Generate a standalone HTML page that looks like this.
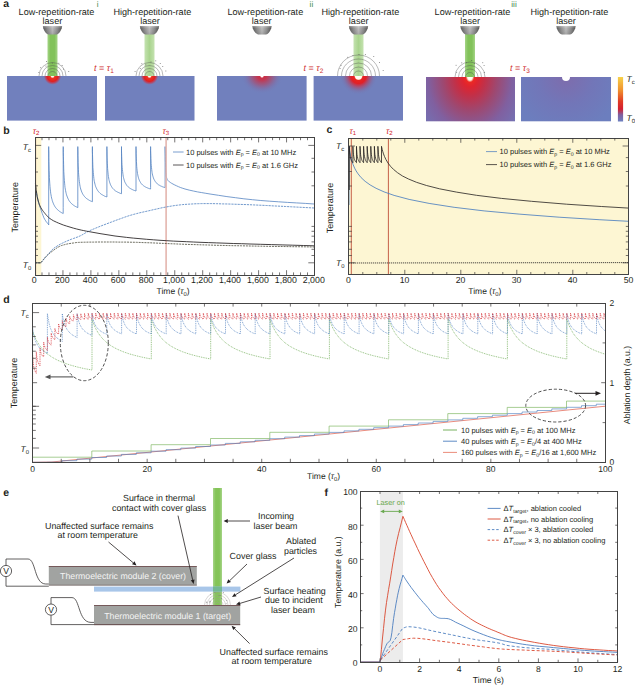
<!DOCTYPE html><html><head><meta charset="utf-8"><style>
html,body{margin:0;padding:0;background:#fff;}
svg{display:block;font-family:"Liberation Sans", sans-serif;}
text{text-rendering:geometricPrecision;}
text{fill:#231f20;}
</style></head><body>
<svg width="635" height="685" viewBox="0 0 635 685">
<defs>
<linearGradient id="head" x1="0" y1="0" x2="0" y2="1"><stop offset="0" stop-color="#fff" stop-opacity="0.35"/><stop offset="0.25" stop-color="#fff" stop-opacity="0.05"/><stop offset="1" stop-color="#000" stop-opacity="0.1"/></linearGradient>
<linearGradient id="headh" x1="0" y1="0" x2="1" y2="0"><stop offset="0" stop-color="#505050"/><stop offset="0.25" stop-color="#8a8a8a"/><stop offset="0.5" stop-color="#b8b8b8"/><stop offset="0.75" stop-color="#8a8a8a"/><stop offset="1" stop-color="#4a4a4a"/></linearGradient>
<linearGradient id="beam1" x1="0" y1="0" x2="1" y2="0"><stop offset="0" stop-color="#a4d486"/><stop offset="0.3" stop-color="#82c25a"/><stop offset="0.7" stop-color="#82c25a"/><stop offset="1" stop-color="#a4d486"/></linearGradient>
<linearGradient id="beam2" x1="0" y1="0" x2="1" y2="0"><stop offset="0" stop-color="#c4e2b0"/><stop offset="0.5" stop-color="#a9d48e"/><stop offset="1" stop-color="#c4e2b0"/></linearGradient>
<linearGradient id="beamE" x1="0" y1="0" x2="1" y2="0"><stop offset="0" stop-color="#a6d488"/><stop offset="0.3" stop-color="#84c458"/><stop offset="0.7" stop-color="#84c458"/><stop offset="1" stop-color="#a6d488"/></linearGradient>
<radialGradient id="hotA" cx="0.5" cy="0.5" r="0.5"><stop offset="0" stop-color="#fff"/><stop offset="0.12" stop-color="#fff8f0"/><stop offset="0.26" stop-color="#ee3420"/><stop offset="0.62" stop-color="#e02020"/><stop offset="0.8" stop-color="#d42a3a" stop-opacity="0.6"/><stop offset="1" stop-color="#c84058" stop-opacity="0"/></radialGradient>
<radialGradient id="diffB" cx="0.5" cy="0.5" r="0.5"><stop offset="0" stop-color="#d02a3c"/><stop offset="0.22" stop-color="#cc2e44" stop-opacity="0.9"/><stop offset="0.5" stop-color="#b4405e" stop-opacity="0.55"/><stop offset="0.78" stop-color="#8c5a90" stop-opacity="0.18"/><stop offset="1" stop-color="#7180bd" stop-opacity="0"/></radialGradient>
<radialGradient id="hotII" cx="0.5" cy="0.5" r="0.5"><stop offset="0" stop-color="#fff"/><stop offset="0.17" stop-color="#fffbea"/><stop offset="0.23" stop-color="#ea2420"/><stop offset="0.4" stop-color="#e02028"/><stop offset="0.58" stop-color="#c83048" stop-opacity="0.55"/><stop offset="0.78" stop-color="#9c4870" stop-opacity="0.18"/><stop offset="1" stop-color="#6c7fbf" stop-opacity="0"/></radialGradient>
<radialGradient id="hotIII" gradientUnits="userSpaceOnUse" cx="470" cy="77" r="60" gradientTransform="translate(470,77) scale(1,1.25) translate(-470,-77)"><stop offset="0" stop-color="#ffffff"/><stop offset="0.04" stop-color="#fffbe8"/><stop offset="0.07" stop-color="#ec2a24"/><stop offset="0.13" stop-color="#de2430"/><stop offset="0.25" stop-color="#c23048"/><stop offset="0.45" stop-color="#9e4870"/><stop offset="0.7" stop-color="#8060a0"/><stop offset="1" stop-color="#7274b6"/></radialGradient>
<radialGradient id="warmIII" gradientUnits="userSpaceOnUse" cx="566" cy="77" r="55"><stop offset="0" stop-color="#7e6cac"/><stop offset="0.5" stop-color="#7276b8"/><stop offset="1" stop-color="#6c7ebe"/></radialGradient>
<linearGradient id="cbar" x1="0" y1="0" x2="0" y2="1"><stop offset="0" stop-color="#f7d24a"/><stop offset="0.3" stop-color="#f0902e"/><stop offset="0.55" stop-color="#e03a24"/><stop offset="0.72" stop-color="#d42030"/><stop offset="0.85" stop-color="#8060a0"/><stop offset="1" stop-color="#6b7fc0"/></linearGradient>
<marker id="arrL" markerWidth="6" markerHeight="6" refX="0.5" refY="3" orient="auto" markerUnits="userSpaceOnUse"><path d="M6,0.8 L0,3 L6,5.2 Z" fill="#231f20"/></marker>
</defs>

<text x="3.2" y="7" font-size="10.5" font-weight="bold">a</text>
<text x="96.8" y="7" font-size="8.2" style="fill:#3f8c4c">i</text>
<text x="309.6" y="7" font-size="8.2" style="fill:#3f8c4c">ii</text>
<text x="511.3" y="7" font-size="8.2" style="fill:#3f8c4c">iii</text>
<text x="56.5" y="14.8" font-size="9.1" text-anchor="middle">Low-repetition-rate</text>
<text x="52.4" y="23.8" font-size="9.1" text-anchor="middle">laser</text>
<rect x="47.5" y="33" width="10" height="43" fill="url(#beam1)"/>
<path d="M42.9,26 L62.1,26 L61.7,28.5 Q59.5,33.8 56.5,34.6 L48.5,34.6 Q45.5,33.8 43.3,28.5 Z" fill="url(#headh)"/>
<path d="M42.9,26 L62.1,26 L61.7,28.5 Q59.5,33.8 56.5,34.6 L48.5,34.6 Q45.5,33.8 43.3,28.5 Z" fill="url(#head)"/>
<text x="152.3" y="14.8" font-size="9.1" text-anchor="middle">High-repetition-rate</text>
<text x="150" y="23.8" font-size="9.1" text-anchor="middle">laser</text>
<rect x="144.5" y="33" width="10" height="43" fill="url(#beam2)"/>
<path d="M139.9,26 L159.1,26 L158.7,28.5 Q156.5,33.8 153.5,34.6 L145.5,34.6 Q142.5,33.8 140.3,28.5 Z" fill="url(#headh)"/>
<path d="M139.9,26 L159.1,26 L158.7,28.5 Q156.5,33.8 153.5,34.6 L145.5,34.6 Q142.5,33.8 140.3,28.5 Z" fill="url(#head)"/>
<text x="265.3" y="14.8" font-size="9.1" text-anchor="middle">Low-repetition-rate</text>
<text x="261.7" y="23.8" font-size="9.1" text-anchor="middle">laser</text>
<path d="M252.4,26 L271.6,26 L271.2,28.5 Q269,33.8 266,34.6 L258,34.6 Q255,33.8 252.8,28.5 Z" fill="url(#headh)"/>
<path d="M252.4,26 L271.6,26 L271.2,28.5 Q269,33.8 266,34.6 L258,34.6 Q255,33.8 252.8,28.5 Z" fill="url(#head)"/>
<text x="360.3" y="14.8" font-size="9.1" text-anchor="middle">High-repetition-rate</text>
<text x="358.7" y="23.8" font-size="9.1" text-anchor="middle">laser</text>
<rect x="353.5" y="33" width="10" height="43" fill="url(#beam2)"/>
<path d="M348.9,26 L368.1,26 L367.7,28.5 Q365.5,33.8 362.5,34.6 L354.5,34.6 Q351.5,33.8 349.3,28.5 Z" fill="url(#headh)"/>
<path d="M348.9,26 L368.1,26 L367.7,28.5 Q365.5,33.8 362.5,34.6 L354.5,34.6 Q351.5,33.8 349.3,28.5 Z" fill="url(#head)"/>
<text x="472.5" y="14.8" font-size="9.1" text-anchor="middle">Low-repetition-rate</text>
<text x="470.2" y="23.8" font-size="9.1" text-anchor="middle">laser</text>
<rect x="465" y="33" width="10" height="44" fill="url(#beam1)"/>
<path d="M460.4,26 L479.6,26 L479.2,28.5 Q477,33.8 474,34.6 L466,34.6 Q463,33.8 460.8,28.5 Z" fill="url(#headh)"/>
<path d="M460.4,26 L479.6,26 L479.2,28.5 Q477,33.8 474,34.6 L466,34.6 Q463,33.8 460.8,28.5 Z" fill="url(#head)"/>
<text x="569.4" y="14.8" font-size="9.1" text-anchor="middle">High-repetition-rate</text>
<text x="566" y="23.8" font-size="9.1" text-anchor="middle">laser</text>
<path d="M556.4,26 L575.6,26 L575.2,28.5 Q573,33.8 570,34.6 L562,34.6 Q559,33.8 556.8,28.5 Z" fill="url(#headh)"/>
<path d="M556.4,26 L575.6,26 L575.2,28.5 Q573,33.8 570,34.6 L562,34.6 Q559,33.8 556.8,28.5 Z" fill="url(#head)"/>
<rect x="7" y="76" width="90.0" height="44.6" fill="#7180bd"/>
<rect x="105" y="76" width="89.5" height="44.6" fill="#7180bd"/>
<rect x="217" y="76" width="89.6" height="44.6" fill="#7180bd"/>
<rect x="313.6" y="76" width="89.4" height="44.6" fill="#7180bd"/>
<rect x="426" y="77" width="89.0" height="44.3" fill="url(#hotIII)"/>
<rect x="521" y="77" width="90.0" height="44.3" fill="url(#warmIII)"/>
<clipPath id="c1"><rect x="7" y="76" width="90" height="44.6"/></clipPath>
<clipPath id="c2"><rect x="105" y="76" width="89.5" height="44.6"/></clipPath>
<clipPath id="c3"><rect x="217" y="76" width="89.6" height="44.6"/></clipPath>
<clipPath id="c4"><rect x="313.6" y="76" width="89.4" height="44.6"/></clipPath>
<clipPath id="c5"><rect x="426" y="77" width="89" height="44.3"/></clipPath>
<clipPath id="c6"><rect x="521" y="77" width="90" height="44.3"/></clipPath>
<circle cx="52.5" cy="76" r="8.8" fill="url(#hotA)" clip-path="url(#c1)"/>
<circle cx="149.5" cy="76" r="8.8" fill="url(#hotA)" clip-path="url(#c2)"/>
<ellipse cx="262" cy="76" rx="21" ry="18" fill="url(#diffB)" clip-path="url(#c3)"/>
<circle cx="262" cy="76" r="1.6" fill="#fff" clip-path="url(#c3)"/>
<circle cx="358.5" cy="76" r="19" fill="url(#hotII)" clip-path="url(#c4)"/>
<circle cx="566" cy="77" r="4" fill="#fff" clip-path="url(#c6)"/>
<path d="M48.0,76 A4.5,4.5 0 0 1 57.0,76" fill="none" stroke="#505050" stroke-width="0.4"/>
<path d="M45.0,76 A7.5,7.5 0 0 1 60.0,76" fill="none" stroke="#505050" stroke-width="0.4"/>
<path d="M42.0,76 A10.5,10.5 0 0 1 63.0,76" fill="none" stroke="#505050" stroke-width="0.4"/>
<path d="M39.0,76 A13.5,13.5 0 0 1 66.0,76" fill="none" stroke="#505050" stroke-width="0.4"/>
<path d="M145.0,76 A4.5,4.5 0 0 1 154.0,76" fill="none" stroke="#505050" stroke-width="0.4"/>
<path d="M142.0,76 A7.5,7.5 0 0 1 157.0,76" fill="none" stroke="#505050" stroke-width="0.4"/>
<path d="M139.0,76 A10.5,10.5 0 0 1 160.0,76" fill="none" stroke="#505050" stroke-width="0.4"/>
<path d="M136.0,76 A13.5,13.5 0 0 1 163.0,76" fill="none" stroke="#505050" stroke-width="0.4"/>
<path d="M353.5,76 A5,5 0 0 1 363.5,76" fill="none" stroke="#505050" stroke-width="0.4"/>
<path d="M349.5,76 A9,9 0 0 1 367.5,76" fill="none" stroke="#505050" stroke-width="0.4"/>
<path d="M345.5,76 A13,13 0 0 1 371.5,76" fill="none" stroke="#505050" stroke-width="0.4"/>
<path d="M341.5,76 A17,17 0 0 1 375.5,76" fill="none" stroke="#505050" stroke-width="0.4"/>
<path d="M337.5,76 A21,21 0 0 1 379.5,76" fill="none" stroke="#505050" stroke-width="0.4"/>
<path d="M465.5,77 A4.5,4.5 0 0 1 474.5,77" fill="none" stroke="#505050" stroke-width="0.4"/>
<path d="M462,77 A8,8 0 0 1 478,77" fill="none" stroke="#505050" stroke-width="0.4"/>
<path d="M458.5,77 A11.5,11.5 0 0 1 481.5,77" fill="none" stroke="#505050" stroke-width="0.4"/>
<path d="M455,77 A15,15 0 0 1 485,77" fill="none" stroke="#505050" stroke-width="0.4"/>
<rect x="38.3" y="72.2" width="1" height="0.6" fill="#555"/>
<rect x="40.1" y="67.5" width="1" height="0.6" fill="#555"/>
<rect x="45.5" y="65.8" width="1" height="0.6" fill="#555"/>
<rect x="46.0" y="61.2" width="1" height="0.6" fill="#555"/>
<rect x="51.9" y="62.8" width="1" height="0.6" fill="#555"/>
<rect x="58.3" y="62.9" width="1" height="0.6" fill="#555"/>
<rect x="61.7" y="65.0" width="1" height="0.6" fill="#555"/>
<rect x="63.0" y="68.8" width="1" height="0.6" fill="#555"/>
<rect x="68.2" y="71.4" width="1" height="0.6" fill="#555"/>
<rect x="134.6" y="71.1" width="1" height="0.6" fill="#555"/>
<rect x="139.8" y="68.4" width="1" height="0.6" fill="#555"/>
<rect x="141.3" y="63.5" width="1" height="0.6" fill="#555"/>
<rect x="145.3" y="64.6" width="1" height="0.6" fill="#555"/>
<rect x="150.5" y="61.7" width="1" height="0.6" fill="#555"/>
<rect x="155.2" y="60.6" width="1" height="0.6" fill="#555"/>
<rect x="159.8" y="63.0" width="1" height="0.6" fill="#555"/>
<rect x="162.2" y="66.3" width="1" height="0.6" fill="#555"/>
<rect x="165.3" y="70.7" width="1" height="0.6" fill="#555"/>
<rect x="339.6" y="68.2" width="1" height="0.6" fill="#555"/>
<rect x="340.6" y="64.9" width="1" height="0.6" fill="#555"/>
<rect x="347.2" y="56.9" width="1" height="0.6" fill="#555"/>
<rect x="352.4" y="55.4" width="1" height="0.6" fill="#555"/>
<rect x="358.5" y="54.1" width="1" height="0.6" fill="#555"/>
<rect x="364.9" y="54.0" width="1" height="0.6" fill="#555"/>
<rect x="373.2" y="56.4" width="1" height="0.6" fill="#555"/>
<rect x="379.0" y="62.2" width="1" height="0.6" fill="#555"/>
<rect x="382.7" y="70.0" width="1" height="0.6" fill="#555"/>
<rect x="456.1" y="71.9" width="1" height="0.6" fill="#555"/>
<rect x="455.6" y="64.9" width="1" height="0.6" fill="#555"/>
<rect x="461.2" y="62.6" width="1" height="0.6" fill="#555"/>
<rect x="466.0" y="62.5" width="1" height="0.6" fill="#555"/>
<rect x="471.1" y="60.2" width="1" height="0.6" fill="#555"/>
<rect x="473.8" y="63.2" width="1" height="0.6" fill="#555"/>
<rect x="482.2" y="62.5" width="1" height="0.6" fill="#555"/>
<rect x="483.6" y="65.3" width="1" height="0.6" fill="#555"/>
<rect x="483.9" y="72.2" width="1" height="0.6" fill="#555"/>
<text x="94" y="70.5" font-size="9" style="fill:#cf3232"><tspan font-style="italic">t</tspan> = <tspan font-style="italic">τ</tspan><tspan font-size="6.5" dy="2">1</tspan></text>
<text x="303.5" y="70.5" font-size="9" style="fill:#cf3232"><tspan font-style="italic">t</tspan> = <tspan font-style="italic">τ</tspan><tspan font-size="6.5" dy="2">2</tspan></text>
<text x="510" y="70.5" font-size="9" style="fill:#cf3232"><tspan font-style="italic">t</tspan> = <tspan font-style="italic">τ</tspan><tspan font-size="6.5" dy="2">3</tspan></text>
<rect x="617.9" y="77" width="5.2" height="44.5" fill="url(#cbar)"/>
<text x="626.5" y="81.5" font-size="8.5"><tspan font-style="italic">T</tspan><tspan font-size="6" dy="2">c</tspan></text>
<text x="626.5" y="120.8" font-size="8.5"><tspan font-style="italic">T</tspan><tspan font-size="6" dy="2">0</tspan></text>
<rect x="35" y="137.6" width="6.3" height="137.4" fill="#fdf6d3"/>
<text x="3.20" y="133.50" font-size="10.5" text-anchor="start" font-weight="bold">b</text>
<line x1="35.60" y1="137.60" x2="35.60" y2="275.00" stroke="#c0503a" stroke-width="0.9" />
<text x="32.8" y="133.5" font-size="8.5" style="fill:#d2232a"><tspan font-style="italic">τ</tspan><tspan font-size="6" dy="1.8">2</tspan></text>
<text x="162.5" y="133.5" font-size="8.5" style="fill:#d2232a"><tspan font-style="italic">τ</tspan><tspan font-size="6" dy="1.8">3</tspan></text>
<polyline points="35.4,189.0 35.6,190.0 35.8,191.0 36.1,192.0 36.3,193.0 36.5,194.0 36.8,195.3 37.1,196.7 37.4,198.0 37.7,199.3 38.0,200.5 38.5,202.3 39.0,204.0 39.5,205.5 40.0,207.0 40.5,208.5 41.4,211.0 42.2,213.4 43.1,215.7 43.9,217.8 44.8,219.5 45.6,220.7 46.3,221.8 47.1,222.7 47.8,223.6 48.6,224.6 48.7,225.0 48.7,213.5 48.7,146.6 48.7,147.4 48.7,149.7 48.8,153.1 48.8,157.2 48.9,161.6 49.0,166.0 49.1,170.2 49.3,174.1 49.4,177.7 49.6,181.0 49.8,183.9 50.0,186.6 50.2,189.0 50.5,191.2 50.7,193.2 51.0,194.9 51.3,196.6 51.6,198.1 52.0,199.4 52.3,200.7 52.7,201.8 53.1,202.9 53.5,203.8 53.9,204.8 54.4,205.6 54.8,206.4 55.3,207.1 55.8,207.8 56.3,208.4 56.9,209.0 57.4,209.6 58.0,210.1 58.6,210.6 59.2,211.1 59.8,211.6 60.5,212.0 61.1,212.4 61.8,212.8 62.5,213.2 63.2,213.5 63.2,207.6 63.2,146.6 63.3,147.3 63.3,149.4 63.3,152.5 63.4,156.2 63.5,160.2 63.6,164.2 63.7,168.1 63.8,171.7 64.0,174.9 64.2,177.9 64.4,180.6 64.6,183.1 64.8,185.3 65.0,187.3 65.3,189.1 65.6,190.7 65.9,192.2 66.2,193.5 66.5,194.8 66.9,195.9 67.3,196.9 67.7,197.9 68.1,198.8 68.5,199.6 68.9,200.4 69.4,201.1 69.9,201.8 70.4,202.4 70.9,203.0 71.4,203.5 72.0,204.1 72.6,204.5 73.2,205.0 73.8,205.4 74.4,205.8 75.0,206.2 75.7,206.6 76.4,206.9 77.1,207.3 77.8,207.6 77.8,201.7 77.8,146.6 77.8,147.3 77.8,149.1 77.9,151.9 77.9,155.3 78.0,158.9 78.1,162.5 78.2,166.0 78.4,169.2 78.5,172.2 78.7,174.9 78.9,177.3 79.1,179.5 79.3,181.5 79.6,183.3 79.8,184.9 80.1,186.4 80.4,187.8 80.7,189.0 81.1,190.1 81.4,191.1 81.8,192.1 82.2,192.9 82.6,193.8 83.0,194.5 83.5,195.2 83.9,195.8 84.4,196.4 84.9,197.0 85.4,197.5 86.0,198.0 86.5,198.5 87.1,198.9 87.7,199.3 88.3,199.7 88.9,200.1 89.6,200.5 90.2,200.8 90.9,201.1 91.6,201.4 92.4,201.7 92.4,197.0 92.4,146.6 92.4,147.2 92.4,148.9 92.4,151.5 92.5,154.6 92.6,157.9 92.7,161.2 92.8,164.3 92.9,167.3 93.1,170.0 93.3,172.5 93.5,174.7 93.7,176.7 93.9,178.5 94.1,180.2 94.4,181.7 94.7,183.0 95.0,184.3 95.3,185.4 95.6,186.4 96.0,187.3 96.4,188.2 96.8,189.0 97.2,189.7 97.6,190.4 98.0,191.0 98.5,191.6 99.0,192.2 99.5,192.7 100.0,193.2 100.5,193.6 101.1,194.1 101.7,194.5 102.3,194.8 102.9,195.2 103.5,195.5 104.1,195.9 104.8,196.2 105.5,196.5 106.2,196.7 106.9,197.0 106.9,193.7 106.9,146.6 106.9,147.2 106.9,148.8 107.0,151.2 107.0,154.0 107.1,157.1 107.2,160.2 107.3,163.2 107.5,165.9 107.6,168.5 107.8,170.8 108.0,172.9 108.2,174.8 108.4,176.5 108.7,178.0 108.9,179.4 109.2,180.6 109.5,181.8 109.8,182.8 110.2,183.8 110.5,184.7 110.9,185.5 111.3,186.2 111.7,186.9 112.1,187.5 112.6,188.1 113.0,188.7 113.5,189.2 114.0,189.7 114.5,190.1 115.1,190.6 115.6,191.0 116.2,191.3 116.8,191.7 117.4,192.0 118.0,192.3 118.7,192.6 119.3,192.9 120.0,193.2 120.7,193.5 121.5,193.7 121.5,191.0 121.5,146.6 121.5,147.1 121.5,148.6 121.5,150.9 121.6,153.6 121.7,156.5 121.8,159.4 121.9,162.2 122.0,164.8 122.2,167.2 122.4,169.4 122.6,171.4 122.8,173.1 123.0,174.7 123.2,176.2 123.5,177.5 123.8,178.7 124.1,179.8 124.4,180.8 124.7,181.7 125.1,182.5 125.5,183.2 125.9,183.9 126.3,184.6 126.7,185.2 127.1,185.8 127.6,186.3 128.1,186.8 128.6,187.2 129.1,187.6 129.6,188.0 130.2,188.4 130.8,188.8 131.4,189.1 132.0,189.4 132.6,189.7 133.2,190.0 133.9,190.3 134.6,190.5 135.3,190.8 136.0,191.0 136.0,189.0 136.0,146.6 136.0,147.1 136.0,148.6 136.1,150.7 136.1,153.3 136.2,156.1 136.3,158.9 136.4,161.5 136.6,164.0 136.7,166.3 136.9,168.4 137.1,170.3 137.3,171.9 137.5,173.5 137.8,174.9 138.0,176.1 138.3,177.2 138.6,178.3 138.9,179.2 139.3,180.1 139.6,180.9 140.0,181.6 140.4,182.3 140.8,182.9 141.2,183.5 141.7,184.0 142.1,184.5 142.6,185.0 143.1,185.4 143.6,185.8 144.2,186.2 144.7,186.5 145.3,186.9 145.9,187.2 146.5,187.5 147.1,187.8 147.8,188.0 148.4,188.3 149.1,188.5 149.8,188.8 150.6,189.0 150.6,187.6 150.6,146.6 150.6,147.1 150.6,148.5 150.6,150.6 150.7,153.1 150.8,155.8 150.9,158.5 151.0,161.0 151.1,163.4 151.3,165.7 151.5,167.7 151.7,169.5 151.9,171.1 152.1,172.6 152.3,173.9 152.6,175.1 152.9,176.2 153.2,177.2 153.5,178.1 153.8,179.0 154.2,179.7 154.6,180.4 155.0,181.1 155.4,181.7 155.8,182.2 156.2,182.8 156.7,183.2 157.2,183.7 157.7,184.1 158.2,184.5 158.7,184.9 159.3,185.2 159.9,185.5 160.5,185.9 161.1,186.1 161.7,186.4 162.3,186.7 163.0,186.9 163.7,187.2 164.4,187.4 165.1,187.6 165.1,187.6 165.1,146.6 165.2,149.8 165.3,153.2 165.4,156.6 165.4,159.9 165.5,162.7 165.6,165.0 165.7,167.7 165.8,170.2 165.9,172.4 166.1,174.2 166.2,175.7 166.3,176.5 166.6,177.7 166.9,178.5 167.2,179.2 167.4,179.7 167.7,180.1 168.0,180.5 168.7,181.2 169.3,181.8 170.0,182.3 170.7,182.7 171.3,183.1 172.0,183.5 174.2,184.7 176.3,185.7 178.5,186.7 180.7,187.6 182.8,188.3 185.0,189.0 189.2,190.1 193.3,191.0 197.5,191.9 201.7,192.6 205.8,193.3 210.0,194.0 218.5,195.3 226.9,196.6 235.4,197.7 243.9,198.8 252.3,199.7 260.8,200.5 269.7,201.2 278.6,201.8 287.5,202.4 296.4,202.9 305.3,203.4 314.2,204.0" fill="none" stroke="#5584c2" stroke-width="0.8" stroke-linejoin="round" />
<line x1="166.10" y1="137.60" x2="166.10" y2="275.00" stroke="#e2b0a8" stroke-width="1.5" />
<polyline points="35.2,262.8 36.0,262.8 36.8,262.8 37.6,262.8 38.4,262.8 39.2,262.8 40.0,262.8 40.8,262.6 41.7,261.9 42.5,261.0 43.3,260.0 44.2,258.9 45.0,258.0 46.4,256.4 47.8,254.7 49.2,253.0 50.7,251.3 52.1,249.8 53.5,248.5 55.8,246.9 58.0,245.5 60.2,244.2 62.5,243.1 64.8,242.0 67.0,241.0 69.2,240.1 71.4,239.2 73.7,238.4 75.9,237.6 78.1,236.8 80.3,235.8 81.6,235.2 82.9,234.4 84.2,233.7 85.4,232.9 86.7,232.2 88.0,231.5 91.2,230.0 94.3,228.7 97.5,227.4 100.7,226.1 103.8,224.9 107.0,223.7 111.5,222.0 116.0,220.3 120.5,218.7 124.9,217.1 129.4,215.6 133.9,214.3 136.6,213.6 139.3,212.9 141.9,212.3 144.6,211.7 147.3,211.1 150.0,210.5 153.3,209.7 156.7,209.0 160.0,208.2 163.3,207.5 166.7,206.9 170.0,206.3 172.5,205.9 175.0,205.5 177.5,205.2 180.0,204.9 182.5,204.6 185.0,204.4 188.3,204.2 191.7,204.0 195.0,203.8 198.3,203.7 201.7,203.6 205.0,203.6 210.8,203.6 216.7,203.7 222.5,203.9 228.3,204.0 234.2,204.2 240.0,204.4 246.7,204.6 253.3,204.9 260.0,205.2 266.7,205.5 273.3,205.9 280.0,206.2 285.7,206.5 291.4,206.8 297.1,207.1 302.8,207.4 308.5,207.7 314.2,208.0" fill="none" stroke="#4d7fbf" stroke-width="0.8" stroke-dasharray="2.2,0.9" stroke-linejoin="round" />
<polyline points="35.4,183.0 35.6,184.5 35.8,186.1 36.0,187.7 36.1,189.3 36.3,190.7 36.5,192.0 36.8,193.6 37.0,195.1 37.2,196.5 37.5,197.8 37.8,199.0 38.0,200.0 38.3,201.2 38.7,202.4 39.0,203.4 39.3,204.4 39.7,205.2 40.0,206.0 40.8,207.6 41.7,209.1 42.5,210.3 43.3,211.4 44.2,212.5 45.0,213.5 45.8,214.5 46.7,215.5 47.5,216.4 48.3,217.2 49.2,218.0 50.0,218.6 51.7,219.7 53.3,220.7 55.0,221.5 56.7,222.3 58.3,223.0 60.0,223.7 63.3,225.0 66.7,226.1 70.0,227.1 73.3,228.1 76.7,229.0 80.0,229.8 81.7,230.2 83.3,230.5 85.0,230.9 86.7,231.2 88.3,231.5 90.0,231.8 95.0,232.7 100.0,233.6 105.0,234.4 110.0,235.2 115.0,236.0 120.0,236.6 126.7,237.4 133.3,238.1 140.0,238.7 146.7,239.3 153.3,239.8 160.0,240.3 166.7,240.7 173.3,241.1 180.0,241.4 186.7,241.7 193.3,242.0 200.0,242.3 208.3,242.6 216.7,242.9 225.0,243.2 233.3,243.5 241.7,243.7 250.0,244.0 260.7,244.3 271.4,244.6 282.1,244.9 292.8,245.2 303.5,245.5 314.2,245.8" fill="none" stroke="#231f20" stroke-width="0.85" stroke-linejoin="round" />
<polyline points="35.2,262.8 36.0,262.8 36.8,262.8 37.6,262.8 38.4,262.8 39.2,262.8 40.0,262.8 40.8,262.5 41.7,261.8 42.5,260.8 43.3,259.6 44.2,258.5 45.0,257.5 45.8,256.7 46.7,255.9 47.5,255.1 48.3,254.4 49.2,253.7 50.0,253.0 51.9,251.5 53.9,250.0 55.8,248.6 57.7,247.4 59.7,246.3 61.6,245.5 63.0,245.1 64.4,244.7 65.8,244.3 67.2,244.0 68.6,243.7 70.0,243.5 71.7,243.2 73.4,243.0 75.2,242.7 76.9,242.5 78.6,242.4 80.3,242.3 84.8,242.2 89.2,242.1 93.7,242.1 98.1,242.0 102.5,242.0 107.0,242.0 110.8,242.0 114.7,242.0 118.5,242.1 122.3,242.1 126.2,242.1 130.0,242.2 136.7,242.3 143.3,242.6 150.0,242.8 156.7,243.1 163.3,243.4 170.0,243.7 175.0,243.9 180.0,244.1 185.0,244.3 190.0,244.5 195.0,244.6 200.0,244.8 208.3,245.0 216.7,245.3 225.0,245.5 233.3,245.7 241.7,245.8 250.0,246.0 260.7,246.2 271.4,246.4 282.1,246.5 292.8,246.7 303.5,246.8 314.2,247.0" fill="none" stroke="#4a4a3a" stroke-width="0.8" stroke-dasharray="2,0.9" stroke-linejoin="round" />
<rect x="35.5" y="137.5" width="279.00" height="138.00" fill="none" stroke="#444" stroke-width="1.0"/>
<path d="M41.99,275.00v-2.6M48.98,275.00v-2.6M55.96,275.00v-2.6M69.94,275.00v-2.6M76.92,275.00v-2.6M83.91,275.00v-2.6M97.89,275.00v-2.6M104.88,275.00v-2.6M111.86,275.00v-2.6M125.84,275.00v-2.6M132.82,275.00v-2.6M139.81,275.00v-2.6M153.79,275.00v-2.6M160.78,275.00v-2.6M167.76,275.00v-2.6M181.74,275.00v-2.6M188.72,275.00v-2.6M195.71,275.00v-2.6M209.69,275.00v-2.6M216.68,275.00v-2.6M223.66,275.00v-2.6M237.64,275.00v-2.6M244.62,275.00v-2.6M251.61,275.00v-2.6M265.59,275.00v-2.6M272.57,275.00v-2.6M279.56,275.00v-2.6M293.54,275.00v-2.6M300.52,275.00v-2.6M307.51,275.00v-2.6" stroke="#3b3838" stroke-width="0.7" fill="none"/>
<path d="M62.95,275.00v-4.8M90.90,275.00v-4.8M118.85,275.00v-4.8M146.80,275.00v-4.8M174.75,275.00v-4.8M202.70,275.00v-4.8M230.65,275.00v-4.8M258.60,275.00v-4.8M286.55,275.00v-4.8" stroke="#3b3838" stroke-width="0.7" fill="none"/>
<path d="M41.99,137.60v2.6M48.98,137.60v2.6M55.96,137.60v2.6M69.94,137.60v2.6M76.92,137.60v2.6M83.91,137.60v2.6M97.89,137.60v2.6M104.88,137.60v2.6M111.86,137.60v2.6M125.84,137.60v2.6M132.82,137.60v2.6M139.81,137.60v2.6M153.79,137.60v2.6M160.78,137.60v2.6M167.76,137.60v2.6M181.74,137.60v2.6M188.72,137.60v2.6M195.71,137.60v2.6M209.69,137.60v2.6M216.68,137.60v2.6M223.66,137.60v2.6M237.64,137.60v2.6M244.62,137.60v2.6M251.61,137.60v2.6M265.59,137.60v2.6M272.57,137.60v2.6M279.56,137.60v2.6M293.54,137.60v2.6M300.52,137.60v2.6M307.51,137.60v2.6" stroke="#3b3838" stroke-width="0.7" fill="none"/>
<path d="M62.95,137.60v4.8M90.90,137.60v4.8M118.85,137.60v4.8M146.80,137.60v4.8M174.75,137.60v4.8M202.70,137.60v4.8M230.65,137.60v4.8M258.60,137.60v4.8M286.55,137.60v4.8" stroke="#3b3838" stroke-width="0.7" fill="none"/>
<path d="M35.00,158.30h3M35.00,172.00h3M35.00,185.80h3M35.00,226.40h3M35.00,231.30h3M35.00,236.20h3M35.00,241.90h3M35.00,249.30h3M35.00,255.50h3" stroke="#3b3838" stroke-width="0.7" fill="none"/>
<path d="M35.00,145.40h6.2M35.00,262.80h6.2" stroke="#3b3838" stroke-width="0.7" fill="none"/>
<path d="M314.50,158.30h-3M314.50,172.00h-3M314.50,185.80h-3M314.50,226.40h-3M314.50,231.30h-3M314.50,236.20h-3M314.50,241.90h-3M314.50,249.30h-3M314.50,255.50h-3" stroke="#3b3838" stroke-width="0.7" fill="none"/>
<path d="M314.50,145.40h-6.2M314.50,262.80h-6.2" stroke="#3b3838" stroke-width="0.7" fill="none"/>
<text x="34.30" y="282.70" font-size="8.8" text-anchor="middle" >0</text>
<text x="62.25" y="282.70" font-size="8.8" text-anchor="middle" >200</text>
<text x="90.20" y="282.70" font-size="8.8" text-anchor="middle" >400</text>
<text x="118.15" y="282.70" font-size="8.8" text-anchor="middle" >600</text>
<text x="146.10" y="282.70" font-size="8.8" text-anchor="middle" >800</text>
<text x="174.05" y="282.70" font-size="8.8" text-anchor="middle" >1,000</text>
<text x="202.00" y="282.70" font-size="8.8" text-anchor="middle" >1,200</text>
<text x="229.95" y="282.70" font-size="8.8" text-anchor="middle" >1,400</text>
<text x="257.90" y="282.70" font-size="8.8" text-anchor="middle" >1,600</text>
<text x="285.85" y="282.70" font-size="8.8" text-anchor="middle" >1,800</text>
<text x="313.80" y="282.70" font-size="8.8" text-anchor="middle" >2,000</text>
<text x="173.1" y="294" font-size="8.5" text-anchor="middle">Time (<tspan font-style="italic">τ</tspan><tspan font-size="5.8" dy="1.8">0</tspan><tspan dy="-1.8">)</tspan></text>
<text x="22.80" y="150.00" font-size="8.5" text-anchor="start"><tspan font-style="italic">T</tspan><tspan font-size="5.9" dy="2">c</tspan></text>
<text x="22.80" y="267.60" font-size="8.5" text-anchor="start"><tspan font-style="italic">T</tspan><tspan font-size="5.9" dy="2">0</tspan></text>
<text x="0" y="0" font-size="9" text-anchor="middle" transform="translate(18.4,207.2) rotate(-90)">Temperature</text>
<line x1="173.00" y1="152.00" x2="183.60" y2="152.00" stroke="#4d7fbf" stroke-width="0.75" />
<line x1="173.00" y1="165.00" x2="183.60" y2="165.00" stroke="#231f20" stroke-width="0.75" />
<text x="186.0" y="154.6" font-size="7.5">10 pulses with <tspan font-style="italic">E</tspan><tspan font-size="5.2" dy="1.6">p</tspan><tspan dy="-1.6"> = </tspan><tspan font-style="italic">E</tspan><tspan font-size="5.2" dy="1.6">0</tspan><tspan dy="-1.6"> at 10 MHz</tspan></text>
<text x="186.0" y="167.6" font-size="7.5">10 pulses with <tspan font-style="italic">E</tspan><tspan font-size="5.2" dy="1.6">p</tspan><tspan dy="-1.6"> = </tspan><tspan font-style="italic">E</tspan><tspan font-size="5.2" dy="1.6">0</tspan><tspan dy="-1.6"> at 1.6 GHz</tspan></text>
<rect x="348.8" y="138" width="280.0" height="136.6" fill="#fdf6d3"/>
<text x="326.40" y="133.20" font-size="10.5" text-anchor="start" font-weight="bold">c</text>
<line x1="351.30" y1="138.00" x2="351.30" y2="274.60" stroke="#c0503a" stroke-width="0.9" />
<line x1="388.40" y1="138.00" x2="388.40" y2="274.60" stroke="#c0503a" stroke-width="0.9" />
<text x="349.5" y="133.5" font-size="8.5" style="fill:#d2232a"><tspan font-style="italic">τ</tspan><tspan font-size="6" dy="1.8">1</tspan></text>
<text x="386" y="133.5" font-size="8.5" style="fill:#d2232a"><tspan font-style="italic">τ</tspan><tspan font-size="6" dy="1.8">2</tspan></text>
<line x1="348.80" y1="263.00" x2="628.80" y2="262.60" stroke="#231f20" stroke-width="0.9" stroke-dasharray="1.1,0.9"/>
<polyline points="349.1,146.0 349.3,147.8 349.6,150.1 350.0,152.7 350.5,155.4 351.1,158.1 352.1,161.8 353.1,164.6 354.6,168.1 356.1,170.9 358.1,173.9 361.1,177.6 365.1,181.3 370.1,184.9 376.1,188.3 384.1,191.9 394.1,195.4 409.1,199.4 429.1,203.4 454.1,207.3 484.1,210.9 519.1,214.1 559.1,217.2 599.1,219.7 628.6,221.3" fill="none" stroke="#4d7fbf" stroke-width="0.85" stroke-linejoin="round" />
<path d="M349.1,205 L349.1,146" stroke="#4d7fbf" stroke-width="0.7"/>
<polyline points="349.3,190.0 349.3,146.3 349.4,148.9 349.6,152.1 349.9,154.7 350.2,156.7 350.6,158.3 351.0,159.6 351.4,160.6 351.9,161.4 352.4,162.1 352.9,162.7 352.9,146.3 353.0,148.9 353.2,152.1 353.5,154.7 353.8,156.7 354.1,158.3 354.5,159.6 355.0,160.6 355.4,161.4 355.9,162.1 356.5,162.7 356.5,146.3 356.6,148.9 356.8,152.1 357.0,154.7 357.4,156.7 357.7,158.3 358.1,159.6 358.6,160.6 359.0,161.4 359.5,162.1 360.0,162.7 360.0,146.3 360.2,148.9 360.4,152.1 360.6,154.7 360.9,156.7 361.3,158.3 361.7,159.6 362.1,160.6 362.6,161.4 363.1,162.1 363.6,162.7 363.6,146.3 363.7,148.9 363.9,152.1 364.2,154.7 364.5,156.7 364.9,158.3 365.3,159.6 365.7,160.6 366.2,161.4 366.7,162.1 367.2,162.7 367.2,146.3 367.3,148.9 367.5,152.1 367.8,154.7 368.1,156.7 368.5,158.3 368.9,159.6 369.3,160.6 369.8,161.4 370.3,162.1 370.8,162.7 370.8,146.3 370.9,148.9 371.1,152.1 371.4,154.7 371.7,156.7 372.0,158.3 372.4,159.6 372.9,160.6 373.3,161.4 373.8,162.1 374.4,162.7 374.4,146.3 374.5,148.9 374.7,152.1 374.9,154.7 375.3,156.7 375.6,158.3 376.0,159.6 376.5,160.6 376.9,161.4 377.4,162.1 377.9,162.7 377.9,146.3 378.1,148.9 378.3,152.1 378.5,154.7 378.8,156.7 379.2,158.3 379.6,159.6 380.0,160.6 380.5,161.4 381.0,162.1 381.5,162.7 381.5,146.3 381.8,147.7 382.2,149.5 382.7,151.3 383.5,153.9 384.5,156.5 386.0,159.7 388.0,163.0 390.5,166.3 393.5,169.4 397.5,172.7 402.5,176.0 408.5,179.0 416.5,182.3 426.5,185.5 439.5,188.8 456.5,192.1 476.5,195.3 501.5,198.4 531.5,201.3 566.5,204.2 601.5,206.5 628.7,208.1" fill="none" stroke="#231f20" stroke-width="0.8" stroke-linejoin="round" />
<rect x="348.5" y="138.5" width="280.00" height="136.00" fill="none" stroke="#444" stroke-width="1.0"/>
<path d="M362.80,274.60v-2.6M376.80,274.60v-2.6M390.80,274.60v-2.6M418.80,274.60v-2.6M432.80,274.60v-2.6M446.80,274.60v-2.6M474.80,274.60v-2.6M488.80,274.60v-2.6M502.80,274.60v-2.6M530.80,274.60v-2.6M544.80,274.60v-2.6M558.80,274.60v-2.6M586.80,274.60v-2.6M600.80,274.60v-2.6M614.80,274.60v-2.6" stroke="#3b3838" stroke-width="0.7" fill="none"/>
<path d="M404.80,274.60v-4.8M460.80,274.60v-4.8M516.80,274.60v-4.8M572.80,274.60v-4.8" stroke="#3b3838" stroke-width="0.7" fill="none"/>
<path d="M362.80,138.00v2.6M376.80,138.00v2.6M390.80,138.00v2.6M418.80,138.00v2.6M432.80,138.00v2.6M446.80,138.00v2.6M474.80,138.00v2.6M488.80,138.00v2.6M502.80,138.00v2.6M530.80,138.00v2.6M544.80,138.00v2.6M558.80,138.00v2.6M586.80,138.00v2.6M600.80,138.00v2.6M614.80,138.00v2.6" stroke="#3b3838" stroke-width="0.7" fill="none"/>
<path d="M404.80,138.00v4.8M460.80,138.00v4.8M516.80,138.00v4.8M572.80,138.00v4.8" stroke="#3b3838" stroke-width="0.7" fill="none"/>
<path d="M348.80,157.60h3M348.80,171.50h3M348.80,186.00h3M348.80,226.40h3M348.80,231.30h3M348.80,236.20h3M348.80,241.90h3M348.80,249.30h3M348.80,255.50h3" stroke="#3b3838" stroke-width="0.7" fill="none"/>
<path d="M348.80,146.00h6.2M348.80,262.80h6.2" stroke="#3b3838" stroke-width="0.7" fill="none"/>
<path d="M628.80,157.60h-3M628.80,171.50h-3M628.80,186.00h-3M628.80,226.40h-3M628.80,231.30h-3M628.80,236.20h-3M628.80,241.90h-3M628.80,249.30h-3M628.80,255.50h-3" stroke="#3b3838" stroke-width="0.7" fill="none"/>
<path d="M628.80,146.00h-6.2M628.80,262.80h-6.2" stroke="#3b3838" stroke-width="0.7" fill="none"/>
<text x="348.50" y="282.80" font-size="8.7" text-anchor="middle" >0</text>
<text x="404.50" y="282.80" font-size="8.7" text-anchor="middle" >10</text>
<text x="460.50" y="282.80" font-size="8.7" text-anchor="middle" >20</text>
<text x="516.50" y="282.80" font-size="8.7" text-anchor="middle" >30</text>
<text x="572.50" y="282.80" font-size="8.7" text-anchor="middle" >40</text>
<text x="628.50" y="282.80" font-size="8.7" text-anchor="middle" >50</text>
<text x="484.8" y="294" font-size="8.5" text-anchor="middle">Time (<tspan font-style="italic">τ</tspan><tspan font-size="5.8" dy="1.8">0</tspan><tspan dy="-1.8">)</tspan></text>
<text x="336.00" y="149.20" font-size="8.5" text-anchor="start"><tspan font-style="italic">T</tspan><tspan font-size="5.9" dy="2">c</tspan></text>
<text x="336.00" y="266.40" font-size="8.5" text-anchor="start"><tspan font-style="italic">T</tspan><tspan font-size="5.9" dy="2">0</tspan></text>
<text x="0" y="0" font-size="9" text-anchor="middle" transform="translate(332.5,208.0) rotate(-90)">Temperature</text>
<line x1="486.00" y1="151.60" x2="497.00" y2="151.60" stroke="#4d7fbf" stroke-width="0.75" />
<line x1="486.00" y1="164.60" x2="497.00" y2="164.60" stroke="#231f20" stroke-width="0.75" />
<text x="499.6" y="154.3" font-size="7.5">10 pulses with <tspan font-style="italic">E</tspan><tspan font-size="5.2" dy="1.6">p</tspan><tspan dy="-1.6"> = </tspan><tspan font-style="italic">E</tspan><tspan font-size="5.2" dy="1.6">0</tspan><tspan dy="-1.6"> at 10 MHz</tspan></text>
<text x="499.6" y="167.3" font-size="7.5">10 pulses with <tspan font-style="italic">E</tspan><tspan font-size="5.2" dy="1.6">p</tspan><tspan dy="-1.6"> = </tspan><tspan font-style="italic">E</tspan><tspan font-size="5.2" dy="1.6">0</tspan><tspan dy="-1.6"> at 1.6 GHz</tspan></text>
<text x="3.20" y="303.00" font-size="10.5" text-anchor="start" font-weight="bold">d</text>
<polyline points="32.6,370.0 32.6,331.0 33.7,334.2 36.0,339.5 39.1,344.9 42.8,349.7 47.2,353.8 52.2,357.3 57.7,360.3 63.6,362.8 70.1,365.0 76.9,366.9 84.2,368.6 92.0,370.0 92.0,370.0 92.0,319.2 93.1,322.5 95.3,327.9 98.4,333.3 102.2,338.3 106.6,342.5 111.5,346.1 117.0,349.1 123.0,351.7 129.4,353.9 136.3,355.8 143.6,357.5 151.3,359.0 151.3,359.0 151.3,319.2 152.4,322.5 154.7,327.9 157.8,333.3 161.5,338.3 165.9,342.5 170.9,346.1 176.4,349.1 182.3,351.7 188.8,353.9 195.6,355.8 202.9,357.5 210.7,359.0 210.7,359.0 210.7,319.2 211.8,322.5 214.0,327.9 217.1,333.3 220.9,338.3 225.3,342.5 230.2,346.1 235.7,349.1 241.7,351.7 248.1,353.9 255.0,355.8 262.3,357.5 270.0,359.0 270.0,359.0 270.0,319.2 271.1,322.5 273.4,327.9 276.5,333.3 280.2,338.3 284.6,342.5 289.6,346.1 295.1,349.1 301.0,351.7 307.5,353.9 314.3,355.8 321.6,357.5 329.4,359.0 329.4,359.0 329.4,319.2 330.5,322.5 332.7,327.9 335.8,333.3 339.6,338.3 344.0,342.5 348.9,346.1 354.4,349.1 360.4,351.7 366.8,353.9 373.7,355.8 381.0,357.5 388.7,359.0 388.7,359.0 388.7,319.2 389.8,322.5 392.1,327.9 395.2,333.3 398.9,338.3 403.3,342.5 408.3,346.1 413.8,349.1 419.7,351.7 426.2,353.9 433.0,355.8 440.3,357.5 448.1,359.0 448.1,359.0 448.1,319.2 449.2,322.5 451.4,327.9 454.5,333.3 458.3,338.3 462.7,342.5 467.6,346.1 473.1,349.1 479.1,351.7 485.5,353.9 492.4,355.8 499.7,357.5 507.4,359.0 507.4,359.0 507.4,319.2 508.5,322.5 510.8,327.9 513.9,333.3 517.6,338.3 522.0,342.5 527.0,346.1 532.5,349.1 538.4,351.7 544.9,353.9 551.7,355.8 559.0,357.5 566.8,359.0 566.8,359.0 566.8,319.2 567.5,321.4 568.9,325.3 571.0,329.5 573.4,333.7 576.3,337.4 579.5,340.8 583.1,343.8 587.0,346.4 591.1,348.8 595.6,350.8 600.4,352.6 605.4,354.3" fill="none" stroke="#6aa84f" stroke-width="0.75" stroke-dasharray="0.9,0.9" stroke-linejoin="round" />
<polyline points="32.6,330.9 32.6,328.0 33.1,331.8 34.2,337.0 35.7,341.6 37.5,345.1 39.6,347.9 42.0,350.1 44.6,351.9 47.4,353.4 47.4,353.4 47.4,313.6 48.0,317.7 49.1,323.5 50.5,328.4 52.3,332.3 54.4,335.4 56.8,337.8 59.4,339.7 62.3,341.3 62.3,341.3 62.3,313.6 62.8,317.1 63.9,322.1 65.4,326.4 67.2,329.7 69.3,332.3 71.6,334.4 74.3,336.1 77.1,337.5 77.1,337.5 77.1,313.6 77.7,316.8 78.7,321.3 80.2,325.2 82.0,328.3 84.1,330.7 86.5,332.6 89.1,334.1 92.0,335.4 92.0,335.4 92.0,313.6 92.5,316.7 93.6,321.0 95.0,324.6 96.9,327.6 99.0,329.8 101.3,331.6 103.9,333.1 106.8,334.3 106.8,334.3 106.8,313.6 107.3,316.6 108.4,320.8 109.9,324.4 111.7,327.3 113.8,329.5 116.2,331.3 118.8,332.7 121.6,333.9 121.6,333.9 121.6,313.6 122.2,316.6 123.3,320.8 124.7,324.4 126.5,327.3 128.6,329.5 131.0,331.3 133.6,332.7 136.5,333.9 136.5,333.9 136.5,313.6 137.0,316.6 138.1,320.8 139.6,324.4 141.4,327.3 143.5,329.5 145.8,331.3 148.5,332.7 151.3,333.9 151.3,333.9 151.3,313.6 151.9,316.6 152.9,320.8 154.4,324.4 156.2,327.3 158.3,329.5 160.7,331.3 163.3,332.7 166.2,333.9 166.2,333.9 166.2,313.6 166.7,316.6 167.8,320.8 169.2,324.4 171.1,327.3 173.2,329.5 175.5,331.3 178.1,332.7 181.0,333.9 181.0,333.9 181.0,313.6 181.5,316.6 182.6,320.8 184.1,324.4 185.9,327.3 188.0,329.5 190.4,331.3 193.0,332.7 195.8,333.9 195.8,333.9 195.8,313.6 196.4,316.6 197.5,320.8 198.9,324.4 200.7,327.3 202.8,329.5 205.2,331.3 207.8,332.7 210.7,333.9 210.7,333.9 210.7,313.6 211.2,316.6 212.3,320.8 213.8,324.4 215.6,327.3 217.7,329.5 220.0,331.3 222.7,332.7 225.5,333.9 225.5,333.9 225.5,313.6 226.1,316.6 227.1,320.8 228.6,324.4 230.4,327.3 232.5,329.5 234.9,331.3 237.5,332.7 240.4,333.9 240.4,333.9 240.4,313.6 240.9,316.6 242.0,320.8 243.4,324.4 245.3,327.3 247.4,329.5 249.7,331.3 252.3,332.7 255.2,333.9 255.2,333.9 255.2,313.6 255.7,316.6 256.8,320.8 258.3,324.4 260.1,327.3 262.2,329.5 264.6,331.3 267.2,332.7 270.0,333.9 270.0,333.9 270.0,313.6 270.6,316.6 271.7,320.8 273.1,324.4 274.9,327.3 277.0,329.5 279.4,331.3 282.0,332.7 284.9,333.9 284.9,333.9 284.9,313.6 285.4,316.6 286.5,320.8 288.0,324.4 289.8,327.3 291.9,329.5 294.2,331.3 296.9,332.7 299.7,333.9 299.7,333.9 299.7,313.6 300.3,316.6 301.3,320.8 302.8,324.4 304.6,327.3 306.7,329.5 309.1,331.3 311.7,332.7 314.6,333.9 314.6,333.9 314.6,313.6 315.1,316.6 316.2,320.8 317.6,324.4 319.5,327.3 321.6,329.5 323.9,331.3 326.5,332.7 329.4,333.9 329.4,333.9 329.4,313.6 329.9,316.6 331.0,320.8 332.5,324.4 334.3,327.3 336.4,329.5 338.8,331.3 341.4,332.7 344.2,333.9 344.2,333.9 344.2,313.6 344.8,316.6 345.9,320.8 347.3,324.4 349.1,327.3 351.2,329.5 353.6,331.3 356.2,332.7 359.1,333.9 359.1,333.9 359.1,313.6 359.6,316.6 360.7,320.8 362.2,324.4 364.0,327.3 366.1,329.5 368.4,331.3 371.1,332.7 373.9,333.9 373.9,333.9 373.9,313.6 374.5,316.6 375.5,320.8 377.0,324.4 378.8,327.3 380.9,329.5 383.3,331.3 385.9,332.7 388.8,333.9 388.8,333.9 388.8,313.6 389.3,316.6 390.4,320.8 391.8,324.4 393.7,327.3 395.8,329.5 398.1,331.3 400.7,332.7 403.6,333.9 403.6,333.9 403.6,313.6 404.1,316.6 405.2,320.8 406.7,324.4 408.5,327.3 410.6,329.5 413.0,331.3 415.6,332.7 418.4,333.9 418.4,333.9 418.4,313.6 419.0,316.6 420.1,320.8 421.5,324.4 423.3,327.3 425.4,329.5 427.8,331.3 430.4,332.7 433.3,333.9 433.3,333.9 433.3,313.6 433.8,316.6 434.9,320.8 436.4,324.4 438.2,327.3 440.3,329.5 442.6,331.3 445.3,332.7 448.1,333.9 448.1,333.9 448.1,313.6 448.7,316.6 449.7,320.8 451.2,324.4 453.0,327.3 455.1,329.5 457.5,331.3 460.1,332.7 463.0,333.9 463.0,333.9 463.0,313.6 463.5,316.6 464.6,320.8 466.0,324.4 467.9,327.3 470.0,329.5 472.3,331.3 474.9,332.7 477.8,333.9 477.8,333.9 477.8,313.6 478.3,316.6 479.4,320.8 480.9,324.4 482.7,327.3 484.8,329.5 487.2,331.3 489.8,332.7 492.6,333.9 492.6,333.9 492.6,313.6 493.2,316.6 494.3,320.8 495.7,324.4 497.5,327.3 499.6,329.5 502.0,331.3 504.6,332.7 507.5,333.9 507.5,333.9 507.5,313.6 508.0,316.6 509.1,320.8 510.6,324.4 512.4,327.3 514.5,329.5 516.8,331.3 519.5,332.7 522.3,333.9 522.3,333.9 522.3,313.6 522.9,316.6 523.9,320.8 525.4,324.4 527.2,327.3 529.3,329.5 531.7,331.3 534.3,332.7 537.2,333.9 537.2,333.9 537.2,313.6 537.7,316.6 538.8,320.8 540.2,324.4 542.1,327.3 544.2,329.5 546.5,331.3 549.1,332.7 552.0,333.9 552.0,333.9 552.0,313.6 552.5,316.6 553.6,320.8 555.1,324.4 556.9,327.3 559.0,329.5 561.4,331.3 564.0,332.7 566.8,333.9 566.8,333.9 566.8,313.6 567.4,316.6 568.5,320.8 569.9,324.4 571.7,327.3 573.8,329.5 576.2,331.3 578.8,332.7 581.7,333.9 581.7,333.9 581.7,313.6 582.2,316.6 583.3,320.8 584.8,324.4 586.6,327.3 588.7,329.5 591.0,331.3 593.7,332.7 596.5,333.9 596.5,333.9 596.5,313.6 596.8,315.5 597.5,318.5 598.4,321.5 599.4,324.1 600.7,326.3 602.1,328.1 603.7,329.7 605.4,331.0" fill="none" stroke="#4d7fbf" stroke-width="0.75" stroke-dasharray="0.9,0.9" stroke-linejoin="round" />
<polyline points="32.6,380.8 32.6,355.4 33.0,361.1 33.8,366.9 34.9,370.8 36.3,373.4 36.3,373.4 36.3,351.7 36.7,356.2 37.5,360.8 38.7,363.9 40.0,366.0 40.0,366.0 40.0,348.0 40.4,350.9 41.2,353.8 42.4,355.7 43.7,357.0 43.7,357.0 43.7,342.0 44.1,344.7 45.0,347.5 46.1,349.3 47.4,350.5 47.4,350.5 47.4,337.2 47.8,339.8 48.7,342.3 49.8,344.1 51.2,345.2 51.2,345.2 51.2,333.0 51.6,335.1 52.4,337.3 53.5,338.7 54.9,339.7 54.9,339.7 54.9,328.4 55.3,330.3 56.1,332.1 57.2,333.3 58.6,334.1 58.6,334.1 58.6,323.8 59.0,325.8 59.8,327.8 60.9,329.1 62.3,330.0 62.3,330.0 62.3,320.6 62.7,322.5 63.5,324.5 64.6,325.9 66.0,326.8 66.0,326.8 66.0,318.3 66.4,320.0 67.2,321.8 68.3,323.0 69.7,323.8 69.7,323.8 69.7,316.3 70.1,317.8 70.9,319.4 72.0,320.4 73.4,321.1 73.4,321.1 73.4,314.7 73.8,316.3 74.6,318.0 75.8,319.1 77.1,319.9 77.1,319.9 77.1,313.9 77.5,315.7 78.3,317.6 79.5,318.8 80.8,319.7 80.8,319.7 80.8,313.6 81.2,315.5 82.1,317.4 83.2,318.6 84.5,319.5 84.5,319.5 84.5,313.4 84.9,315.3 85.8,317.2 86.9,318.4 88.2,319.3 88.2,319.3 88.2,313.1 88.7,315.1 89.5,317.0 90.6,318.3 92.0,319.2 92.0,319.2 92.0,313.0 92.4,315.0 93.2,317.0 94.3,318.3 95.7,319.2 95.7,319.2 95.7,313.0 96.1,315.0 96.9,317.0 98.0,318.3 99.4,319.2 99.4,319.2 99.4,313.0 99.8,315.0 100.6,317.0 101.7,318.3 103.1,319.2 103.1,319.2 103.1,313.0 103.5,315.0 104.3,317.0 105.4,318.3 106.8,319.2 106.8,319.2 106.8,313.0 107.2,315.0 108.0,317.0 109.1,318.3 110.5,319.2 110.5,319.2 110.5,313.0 110.9,315.0 111.7,317.0 112.9,318.3 114.2,319.2 114.2,319.2 114.2,313.0 114.6,315.0 115.4,317.0 116.6,318.3 117.9,319.2 117.9,319.2 117.9,313.0 118.3,315.0 119.2,317.0 120.3,318.3 121.6,319.2 121.6,319.2 121.6,313.0 122.0,315.0 122.9,317.0 124.0,318.3 125.3,319.2 125.3,319.2 125.3,313.0 125.8,315.0 126.6,317.0 127.7,318.3 129.1,319.2 129.1,319.2 129.1,313.0 129.5,315.0 130.3,317.0 131.4,318.3 132.8,319.2 132.8,319.2 132.8,313.0 133.2,315.0 134.0,317.0 135.1,318.3 136.5,319.2 136.5,319.2 136.5,313.0 136.9,315.0 137.7,317.0 138.8,318.3 140.2,319.2 140.2,319.2 140.2,313.0 140.6,315.0 141.4,317.0 142.5,318.3 143.9,319.2 143.9,319.2 143.9,313.0 144.3,315.0 145.1,317.0 146.2,318.3 147.6,319.2 147.6,319.2 147.6,313.0 148.0,315.0 148.8,317.0 150.0,318.3 151.3,319.2 151.3,319.2 151.3,313.0 151.7,315.0 152.5,317.0 153.7,318.3 155.0,319.2 155.0,319.2 155.0,313.0 155.4,315.0 156.3,317.0 157.4,318.3 158.7,319.2 158.7,319.2 158.7,313.0 159.1,315.0 160.0,317.0 161.1,318.3 162.4,319.2 162.4,319.2 162.4,313.0 162.9,315.0 163.7,317.0 164.8,318.3 166.2,319.2 166.2,319.2 166.2,313.0 166.6,315.0 167.4,317.0 168.5,318.3 169.9,319.2 169.9,319.2 169.9,313.0 170.3,315.0 171.1,317.0 172.2,318.3 173.6,319.2 173.6,319.2 173.6,313.0 174.0,315.0 174.8,317.0 175.9,318.3 177.3,319.2 177.3,319.2 177.3,313.0 177.7,315.0 178.5,317.0 179.6,318.3 181.0,319.2 181.0,319.2 181.0,313.0 181.4,315.0 182.2,317.0 183.3,318.3 184.7,319.2 184.7,319.2 184.7,313.0 185.1,315.0 185.9,317.0 187.1,318.3 188.4,319.2 188.4,319.2 188.4,313.0 188.8,315.0 189.6,317.0 190.8,318.3 192.1,319.2 192.1,319.2 192.1,313.0 192.5,315.0 193.4,317.0 194.5,318.3 195.8,319.2 195.8,319.2 195.8,313.0 196.2,315.0 197.1,317.0 198.2,318.3 199.6,319.2 199.6,319.2 199.6,313.0 200.0,315.0 200.8,317.0 201.9,318.3 203.3,319.2 203.3,319.2 203.3,313.0 203.7,315.0 204.5,317.0 205.6,318.3 207.0,319.2 207.0,319.2 207.0,313.0 207.4,315.0 208.2,317.0 209.3,318.3 210.7,319.2 210.7,319.2 210.7,313.0 211.1,315.0 211.9,317.0 213.0,318.3 214.4,319.2 214.4,319.2 214.4,313.0 214.8,315.0 215.6,317.0 216.7,318.3 218.1,319.2 218.1,319.2 218.1,313.0 218.5,315.0 219.3,317.0 220.4,318.3 221.8,319.2 221.8,319.2 221.8,313.0 222.2,315.0 223.0,317.0 224.2,318.3 225.5,319.2 225.5,319.2 225.5,313.0 225.9,315.0 226.7,317.0 227.9,318.3 229.2,319.2 229.2,319.2 229.2,313.0 229.6,315.0 230.5,317.0 231.6,318.3 232.9,319.2 232.9,319.2 232.9,313.0 233.3,315.0 234.2,317.0 235.3,318.3 236.7,319.2 236.7,319.2 236.7,313.0 237.1,315.0 237.9,317.0 239.0,318.3 240.4,319.2 240.4,319.2 240.4,313.0 240.8,315.0 241.6,317.0 242.7,318.3 244.1,319.2 244.1,319.2 244.1,313.0 244.5,315.0 245.3,317.0 246.4,318.3 247.8,319.2 247.8,319.2 247.8,313.0 248.2,315.0 249.0,317.0 250.1,318.3 251.5,319.2 251.5,319.2 251.5,313.0 251.9,315.0 252.7,317.0 253.8,318.3 255.2,319.2 255.2,319.2 255.2,313.0 255.6,315.0 256.4,317.0 257.5,318.3 258.9,319.2 258.9,319.2 258.9,313.0 259.3,315.0 260.1,317.0 261.3,318.3 262.6,319.2 262.6,319.2 262.6,313.0 263.0,315.0 263.8,317.0 265.0,318.3 266.3,319.2 266.3,319.2 266.3,313.0 266.7,315.0 267.6,317.0 268.7,318.3 270.0,319.2 270.0,319.2 270.0,313.0 270.4,315.0 271.3,317.0 272.4,318.3 273.8,319.2 273.8,319.2 273.8,313.0 274.2,315.0 275.0,317.0 276.1,318.3 277.5,319.2 277.5,319.2 277.5,313.0 277.9,315.0 278.7,317.0 279.8,318.3 281.2,319.2 281.2,319.2 281.2,313.0 281.6,315.0 282.4,317.0 283.5,318.3 284.9,319.2 284.9,319.2 284.9,313.0 285.3,315.0 286.1,317.0 287.2,318.3 288.6,319.2 288.6,319.2 288.6,313.0 289.0,315.0 289.8,317.0 290.9,318.3 292.3,319.2 292.3,319.2 292.3,313.0 292.7,315.0 293.5,317.0 294.6,318.3 296.0,319.2 296.0,319.2 296.0,313.0 296.4,315.0 297.2,317.0 298.4,318.3 299.7,319.2 299.7,319.2 299.7,313.0 300.1,315.0 300.9,317.0 302.1,318.3 303.4,319.2 303.4,319.2 303.4,313.0 303.8,315.0 304.7,317.0 305.8,318.3 307.1,319.2 307.1,319.2 307.1,313.0 307.5,315.0 308.4,317.0 309.5,318.3 310.8,319.2 310.8,319.2 310.8,313.0 311.3,315.0 312.1,317.0 313.2,318.3 314.6,319.2 314.6,319.2 314.6,313.0 315.0,315.0 315.8,317.0 316.9,318.3 318.3,319.2 318.3,319.2 318.3,313.0 318.7,315.0 319.5,317.0 320.6,318.3 322.0,319.2 322.0,319.2 322.0,313.0 322.4,315.0 323.2,317.0 324.3,318.3 325.7,319.2 325.7,319.2 325.7,313.0 326.1,315.0 326.9,317.0 328.0,318.3 329.4,319.2 329.4,319.2 329.4,313.0 329.8,315.0 330.6,317.0 331.7,318.3 333.1,319.2 333.1,319.2 333.1,313.0 333.5,315.0 334.3,317.0 335.5,318.3 336.8,319.2 336.8,319.2 336.8,313.0 337.2,315.0 338.0,317.0 339.2,318.3 340.5,319.2 340.5,319.2 340.5,313.0 340.9,315.0 341.8,317.0 342.9,318.3 344.2,319.2 344.2,319.2 344.2,313.0 344.6,315.0 345.5,317.0 346.6,318.3 347.9,319.2 347.9,319.2 347.9,313.0 348.4,315.0 349.2,317.0 350.3,318.3 351.7,319.2 351.7,319.2 351.7,313.0 352.1,315.0 352.9,317.0 354.0,318.3 355.4,319.2 355.4,319.2 355.4,313.0 355.8,315.0 356.6,317.0 357.7,318.3 359.1,319.2 359.1,319.2 359.1,313.0 359.5,315.0 360.3,317.0 361.4,318.3 362.8,319.2 362.8,319.2 362.8,313.0 363.2,315.0 364.0,317.0 365.1,318.3 366.5,319.2 366.5,319.2 366.5,313.0 366.9,315.0 367.7,317.0 368.8,318.3 370.2,319.2 370.2,319.2 370.2,313.0 370.6,315.0 371.4,317.0 372.6,318.3 373.9,319.2 373.9,319.2 373.9,313.0 374.3,315.0 375.1,317.0 376.3,318.3 377.6,319.2 377.6,319.2 377.6,313.0 378.0,315.0 378.9,317.0 380.0,318.3 381.3,319.2 381.3,319.2 381.3,313.0 381.7,315.0 382.6,317.0 383.7,318.3 385.0,319.2 385.0,319.2 385.0,313.0 385.5,315.0 386.3,317.0 387.4,318.3 388.8,319.2 388.8,319.2 388.8,313.0 389.2,315.0 390.0,317.0 391.1,318.3 392.5,319.2 392.5,319.2 392.5,313.0 392.9,315.0 393.7,317.0 394.8,318.3 396.2,319.2 396.2,319.2 396.2,313.0 396.6,315.0 397.4,317.0 398.5,318.3 399.9,319.2 399.9,319.2 399.9,313.0 400.3,315.0 401.1,317.0 402.2,318.3 403.6,319.2 403.6,319.2 403.6,313.0 404.0,315.0 404.8,317.0 405.9,318.3 407.3,319.2 407.3,319.2 407.3,313.0 407.7,315.0 408.5,317.0 409.7,318.3 411.0,319.2 411.0,319.2 411.0,313.0 411.4,315.0 412.2,317.0 413.4,318.3 414.7,319.2 414.7,319.2 414.7,313.0 415.1,315.0 416.0,317.0 417.1,318.3 418.4,319.2 418.4,319.2 418.4,313.0 418.8,315.0 419.7,317.0 420.8,318.3 422.1,319.2 422.1,319.2 422.1,313.0 422.6,315.0 423.4,317.0 424.5,318.3 425.9,319.2 425.9,319.2 425.9,313.0 426.3,315.0 427.1,317.0 428.2,318.3 429.6,319.2 429.6,319.2 429.6,313.0 430.0,315.0 430.8,317.0 431.9,318.3 433.3,319.2 433.3,319.2 433.3,313.0 433.7,315.0 434.5,317.0 435.6,318.3 437.0,319.2 437.0,319.2 437.0,313.0 437.4,315.0 438.2,317.0 439.3,318.3 440.7,319.2 440.7,319.2 440.7,313.0 441.1,315.0 441.9,317.0 443.0,318.3 444.4,319.2 444.4,319.2 444.4,313.0 444.8,315.0 445.6,317.0 446.8,318.3 448.1,319.2 448.1,319.2 448.1,313.0 448.5,315.0 449.3,317.0 450.5,318.3 451.8,319.2 451.8,319.2 451.8,313.0 452.2,315.0 453.1,317.0 454.2,318.3 455.5,319.2 455.5,319.2 455.5,313.0 455.9,315.0 456.8,317.0 457.9,318.3 459.2,319.2 459.2,319.2 459.2,313.0 459.7,315.0 460.5,317.0 461.6,318.3 463.0,319.2 463.0,319.2 463.0,313.0 463.4,315.0 464.2,317.0 465.3,318.3 466.7,319.2 466.7,319.2 466.7,313.0 467.1,315.0 467.9,317.0 469.0,318.3 470.4,319.2 470.4,319.2 470.4,313.0 470.8,315.0 471.6,317.0 472.7,318.3 474.1,319.2 474.1,319.2 474.1,313.0 474.5,315.0 475.3,317.0 476.4,318.3 477.8,319.2 477.8,319.2 477.8,313.0 478.2,315.0 479.0,317.0 480.1,318.3 481.5,319.2 481.5,319.2 481.5,313.0 481.9,315.0 482.7,317.0 483.9,318.3 485.2,319.2 485.2,319.2 485.2,313.0 485.6,315.0 486.4,317.0 487.6,318.3 488.9,319.2 488.9,319.2 488.9,313.0 489.3,315.0 490.2,317.0 491.3,318.3 492.6,319.2 492.6,319.2 492.6,313.0 493.0,315.0 493.9,317.0 495.0,318.3 496.3,319.2 496.3,319.2 496.3,313.0 496.8,315.0 497.6,317.0 498.7,318.3 500.1,319.2 500.1,319.2 500.1,313.0 500.5,315.0 501.3,317.0 502.4,318.3 503.8,319.2 503.8,319.2 503.8,313.0 504.2,315.0 505.0,317.0 506.1,318.3 507.5,319.2 507.5,319.2 507.5,313.0 507.9,315.0 508.7,317.0 509.8,318.3 511.2,319.2 511.2,319.2 511.2,313.0 511.6,315.0 512.4,317.0 513.5,318.3 514.9,319.2 514.9,319.2 514.9,313.0 515.3,315.0 516.1,317.0 517.2,318.3 518.6,319.2 518.6,319.2 518.6,313.0 519.0,315.0 519.8,317.0 521.0,318.3 522.3,319.2 522.3,319.2 522.3,313.0 522.7,315.0 523.5,317.0 524.7,318.3 526.0,319.2 526.0,319.2 526.0,313.0 526.4,315.0 527.3,317.0 528.4,318.3 529.7,319.2 529.7,319.2 529.7,313.0 530.1,315.0 531.0,317.0 532.1,318.3 533.4,319.2 533.4,319.2 533.4,313.0 533.9,315.0 534.7,317.0 535.8,318.3 537.2,319.2 537.2,319.2 537.2,313.0 537.6,315.0 538.4,317.0 539.5,318.3 540.9,319.2 540.9,319.2 540.9,313.0 541.3,315.0 542.1,317.0 543.2,318.3 544.6,319.2 544.6,319.2 544.6,313.0 545.0,315.0 545.8,317.0 546.9,318.3 548.3,319.2 548.3,319.2 548.3,313.0 548.7,315.0 549.5,317.0 550.6,318.3 552.0,319.2 552.0,319.2 552.0,313.0 552.4,315.0 553.2,317.0 554.3,318.3 555.7,319.2 555.7,319.2 555.7,313.0 556.1,315.0 556.9,317.0 558.1,318.3 559.4,319.2 559.4,319.2 559.4,313.0 559.8,315.0 560.6,317.0 561.8,318.3 563.1,319.2 563.1,319.2 563.1,313.0 563.5,315.0 564.4,317.0 565.5,318.3 566.8,319.2 566.8,319.2 566.8,313.0 567.2,315.0 568.1,317.0 569.2,318.3 570.5,319.2 570.5,319.2 570.5,313.0 571.0,315.0 571.8,317.0 572.9,318.3 574.3,319.2 574.3,319.2 574.3,313.0 574.7,315.0 575.5,317.0 576.6,318.3 578.0,319.2 578.0,319.2 578.0,313.0 578.4,315.0 579.2,317.0 580.3,318.3 581.7,319.2 581.7,319.2 581.7,313.0 582.1,315.0 582.9,317.0 584.0,318.3 585.4,319.2 585.4,319.2 585.4,313.0 585.8,315.0 586.6,317.0 587.7,318.3 589.1,319.2 589.1,319.2 589.1,313.0 589.5,315.0 590.3,317.0 591.4,318.3 592.8,319.2 592.8,319.2 592.8,313.0 593.2,315.0 594.0,317.0 595.2,318.3 596.5,319.2 596.5,319.2 596.5,313.0 596.9,315.0 597.7,317.0 598.9,318.3 600.2,319.2 600.2,319.2 600.2,313.0 600.6,315.0 601.5,317.0 602.6,318.3 603.9,319.2 603.9,319.2 603.9,313.0 604.1,313.9 604.4,315.2 604.9,316.4 605.4,317.3" fill="none" stroke="#d2232a" stroke-width="0.75" stroke-dasharray="0.9,0.9" stroke-linejoin="round" />
<polyline points="32.6,462.3 52.0,462.0 605.4,406.2" fill="none" stroke="#e05a48" stroke-width="0.7" stroke-linejoin="round" />
<polyline points="32.6,457.2 32.6,457.2 91.8,457.2 91.8,457.2 91.8,451.0 151.1,451.0 151.1,451.0 151.1,444.7 210.5,444.7 210.5,444.7 210.5,438.5 269.8,438.5 269.8,438.5 269.8,432.3 329.1,432.3 329.1,432.3 329.1,426.1 388.5,426.1 388.5,426.1 388.5,419.8 447.8,419.8 447.8,419.8 447.8,413.6 507.2,413.6 507.2,413.6 507.2,407.4 566.5,407.4 566.5,407.4 566.5,401.1 605.4,401.1" fill="none" stroke="#78b45a" stroke-width="0.65" stroke-linejoin="round" />
<polyline points="32.6,462.3 32.6,462.3 47.2,462.3 47.2,462.3 47.2,462.2 62.1,462.2 62.1,462.2 62.1,460.7 76.9,460.7 76.9,460.7 76.9,459.1 91.8,459.1 91.8,459.1 91.8,457.5 106.6,457.5 106.6,457.5 106.6,456.0 121.4,456.0 121.4,456.0 121.4,454.4 136.3,454.4 136.3,454.4 136.3,452.8 151.1,452.8 151.1,452.8 151.1,451.2 166.0,451.2 166.0,451.2 166.0,449.7 180.8,449.7 180.8,449.7 180.8,448.1 195.6,448.1 195.6,448.1 195.6,446.5 210.5,446.5 210.5,446.5 210.5,445.0 225.3,445.0 225.3,445.0 225.3,443.4 240.2,443.4 240.2,443.4 240.2,441.8 255.0,441.8 255.0,441.8 255.0,440.3 269.8,440.3 269.8,440.3 269.8,438.7 284.7,438.7 284.7,438.7 284.7,437.1 299.5,437.1 299.5,437.1 299.5,435.6 314.4,435.6 314.4,435.6 314.4,434.0 329.2,434.0 329.2,434.0 329.2,432.4 344.0,432.4 344.0,432.4 344.0,430.9 358.9,430.9 358.9,430.9 358.9,429.3 373.7,429.3 373.7,429.3 373.7,427.7 388.6,427.7 388.6,427.7 388.6,426.1 403.4,426.1 403.4,426.1 403.4,424.6 418.2,424.6 418.2,424.6 418.2,423.0 433.1,423.0 433.1,423.0 433.1,421.4 447.9,421.4 447.9,421.4 447.9,419.9 462.8,419.9 462.8,419.9 462.8,418.3 477.6,418.3 477.6,418.3 477.6,416.7 492.4,416.7 492.4,416.7 492.4,415.2 507.3,415.2 507.3,415.2 507.3,413.6 522.1,413.6 522.1,413.6 522.1,412.0 537.0,412.0 537.0,412.0 537.0,410.5 551.8,410.5 551.8,410.5 551.8,408.9 566.6,408.9 566.6,408.9 566.6,407.3 581.5,407.3 581.5,407.3 581.5,405.7 596.3,405.7 596.3,405.7 596.3,404.2 605.4,404.2" fill="none" stroke="#4d7fbf" stroke-width="0.65" stroke-linejoin="round" />
<ellipse cx="84.3" cy="343" rx="24" ry="37.7" fill="none" stroke="#3a3a3a" stroke-width="0.9" stroke-dasharray="3.2,2"/>
<ellipse cx="555.7" cy="405.6" rx="29.9" ry="16.4" fill="none" stroke="#3a3a3a" stroke-width="0.9" stroke-dasharray="3.2,2"/>
<path d="M73.3,376.9 L49,376.9" stroke="#555" stroke-width="1.1"/><path d="M44.8,376.9 L50.5,374.5 L50.5,379.3 Z" fill="#555"/>
<path d="M575.2,393.3 L597,393.3" stroke="#231f20" stroke-width="1"/><path d="M601,393.3 L595.5,390.9 L595.5,395.7 Z" fill="#231f20"/>
<rect x="32.5" y="303.5" width="573.00" height="159.00" fill="none" stroke="#444" stroke-width="1.0"/>
<path d="M61.24,462.40v-3.6M89.88,462.40v-3.6M118.52,462.40v-3.6M147.16,462.40v-3.6M175.80,462.40v-3.6M204.44,462.40v-3.6M233.08,462.40v-3.6M261.72,462.40v-3.6M290.36,462.40v-3.6M319.00,462.40v-3.6M347.64,462.40v-3.6M376.28,462.40v-3.6M404.92,462.40v-3.6M433.56,462.40v-3.6M462.20,462.40v-3.6M490.84,462.40v-3.6M519.48,462.40v-3.6M548.12,462.40v-3.6M576.76,462.40v-3.6" stroke="#3b3838" stroke-width="0.7" fill="none"/>
<path d="M61.24,303.00v3.6M89.88,303.00v3.6M118.52,303.00v3.6M147.16,303.00v3.6M175.80,303.00v3.6M204.44,303.00v3.6M233.08,303.00v3.6M261.72,303.00v3.6M290.36,303.00v3.6M319.00,303.00v3.6M347.64,303.00v3.6M376.28,303.00v3.6M404.92,303.00v3.6M433.56,303.00v3.6M462.20,303.00v3.6M490.84,303.00v3.6M519.48,303.00v3.6M548.12,303.00v3.6M576.76,303.00v3.6" stroke="#3b3838" stroke-width="0.7" fill="none"/>
<text x="32.60" y="471.90" font-size="8.5" text-anchor="middle" >0</text>
<text x="147.16" y="471.90" font-size="8.5" text-anchor="middle" >20</text>
<text x="261.72" y="471.90" font-size="8.5" text-anchor="middle" >40</text>
<text x="376.28" y="471.90" font-size="8.5" text-anchor="middle" >60</text>
<text x="490.84" y="471.90" font-size="8.5" text-anchor="middle" >80</text>
<text x="605.40" y="471.90" font-size="8.5" text-anchor="middle" >100</text>
<text x="323.6" y="479" font-size="8.5" text-anchor="middle">Time (<tspan font-style="italic">τ</tspan><tspan font-size="5.8" dy="1.8">0</tspan><tspan dy="-1.8">)</tspan></text>
<path d="M32.60,326.80h3.2M32.60,336.50h3.2M32.60,344.90h3.2M32.60,351.20h3.2M32.60,358.30h3.2M32.60,368.20h3.2M32.60,406.30h3.2M32.60,410.20h3.2M32.60,414.80h3.2M32.60,418.80h3.2M32.60,424.00h3.2M32.60,430.40h3.2M32.60,438.40h3.2" stroke="#3b3838" stroke-width="0.7" fill="none"/>
<path d="M32.60,312.60h6.5M32.60,448.00h6.5M32.60,406.30h6.5" stroke="#3b3838" stroke-width="0.7" fill="none"/>
<path d="M32.60,382.70h4.5" stroke="#3b3838" stroke-width="0.7" fill="none"/>
<path d="M605.40,342.90h-2.8M605.40,422.60h-2.8" stroke="#3b3838" stroke-width="0.7" fill="none"/>
<path d="M605.40,382.70h-4.2" stroke="#3b3838" stroke-width="0.7" fill="none"/>
<text x="20.50" y="316.00" font-size="8.5" text-anchor="start"><tspan font-style="italic">T</tspan><tspan font-size="5.9" dy="2">c</tspan></text>
<text x="20.50" y="451.50" font-size="8.5" text-anchor="start"><tspan font-style="italic">T</tspan><tspan font-size="5.9" dy="2">0</tspan></text>
<text x="0" y="0" font-size="9" text-anchor="middle" transform="translate(16.9,383.0) rotate(-90)">Temperature</text>
<text x="0" y="0" font-size="8.7" text-anchor="middle" transform="translate(630.3,385.0) rotate(-90)">Ablation depth (a.u.)</text>
<text x="609.60" y="306.20" font-size="8.5" text-anchor="start" >2</text>
<text x="609.60" y="386.00" font-size="8.5" text-anchor="start" >1</text>
<text x="609.60" y="465.20" font-size="8.5" text-anchor="start" >0</text>
<line x1="443.00" y1="430.00" x2="457.00" y2="430.00" stroke="#6aa84f" stroke-width="0.9" />
<line x1="443.00" y1="441.20" x2="457.00" y2="441.20" stroke="#4d7fbf" stroke-width="0.9" />
<line x1="443.00" y1="452.40" x2="457.00" y2="452.40" stroke="#e8806c" stroke-width="0.9" />
<text x="461.0" y="432.7" font-size="7.5">10 pulses with <tspan font-style="italic">E</tspan><tspan font-size="5.2" dy="1.6">p</tspan><tspan dy="-1.6"> = </tspan><tspan font-style="italic">E</tspan><tspan font-size="5.2" dy="1.6">0</tspan><tspan dy="-1.6"> at 100 MHz</tspan></text>
<text x="461.0" y="443.9" font-size="7.5">40 pulses with <tspan font-style="italic">E</tspan><tspan font-size="5.2" dy="1.6">p</tspan><tspan dy="-1.6"> = </tspan><tspan font-style="italic">E</tspan><tspan font-size="5.2" dy="1.6">0</tspan><tspan dy="-1.6">/4 at 400 MHz</tspan></text>
<text x="461.0" y="455.1" font-size="7.5">160 pulses with <tspan font-style="italic">E</tspan><tspan font-size="5.2" dy="1.6">p</tspan><tspan dy="-1.6"> = </tspan><tspan font-style="italic">E</tspan><tspan font-size="5.2" dy="1.6">0</tspan><tspan dy="-1.6">/16 at 1,600 MHz</tspan></text>
<text x="3.20" y="495.80" font-size="10.5" text-anchor="start" font-weight="bold">e</text>
<rect x="213" y="488" width="9" height="117.5" fill="url(#beamE)"/>
<rect x="94" y="586.6" width="146.4" height="5" fill="#a8c6e9"/>
<rect x="213" y="586.6" width="9" height="5" fill="#74b894"/>
<rect x="48.8" y="566.2" width="148" height="19.2" fill="#a1a3a1"/>
<line x1="48.8" y1="566.5" x2="196.8" y2="566.5" stroke="#6e4e50" stroke-width="0.9"/>
<line x1="48.8" y1="585.2" x2="196.8" y2="585.2" stroke="#6a5555" stroke-width="0.6"/>
<text x="60.1" y="579.2" font-size="8.75" style="fill:#f4f4f4">Thermoelectric module 2 (cover)</text>
<rect x="94" y="605.2" width="146.2" height="19.8" fill="#a1a3a1"/>
<line x1="94" y1="605.5" x2="240.2" y2="605.5" stroke="#6e4e50" stroke-width="0.9"/>
<line x1="94" y1="624.7" x2="240.2" y2="624.7" stroke="#5a3c3c" stroke-width="0.9"/>
<text x="104.2" y="619.1" font-size="8.75" style="fill:#f4f4f4">Thermoelectric module 1 (target)</text>
<path d="M214.5,605.2 A3,3 0 0 1 220.5,605.2" fill="none" stroke="#a09a9a" stroke-width="0.4"/>
<path d="M212.0,605.2 A5.5,5.5 0 0 1 223.0,605.2" fill="none" stroke="#a09a9a" stroke-width="0.4"/>
<path d="M209.5,605.2 A8,8 0 0 1 225.5,605.2" fill="none" stroke="#a09a9a" stroke-width="0.4"/>
<path d="M207.0,605.2 A10.5,10.5 0 0 1 228.0,605.2" fill="none" stroke="#a09a9a" stroke-width="0.4"/>
<path d="M204.5,605.2 A13,13 0 0 1 230.5,605.2" fill="none" stroke="#a09a9a" stroke-width="0.4"/>
<rect x="213.1" y="597.9" width="0.9" height="0.6" fill="#777"/>
<rect x="221.1" y="598.2" width="0.9" height="0.6" fill="#777"/>
<rect x="218.6" y="595.4" width="0.9" height="0.6" fill="#777"/>
<rect x="206.1" y="601.8" width="0.9" height="0.6" fill="#777"/>
<rect x="206.4" y="602.5" width="0.9" height="0.6" fill="#777"/>
<rect x="209.3" y="602.5" width="0.9" height="0.6" fill="#777"/>
<rect x="214.4" y="592.3" width="0.9" height="0.6" fill="#777"/>
<rect x="208.9" y="600.9" width="0.9" height="0.6" fill="#777"/>
<rect x="223.0" y="592.1" width="0.9" height="0.6" fill="#777"/>
<rect x="219.9" y="595.4" width="0.9" height="0.6" fill="#777"/>
<rect x="225.7" y="603.5" width="0.9" height="0.6" fill="#777"/>
<rect x="226.3" y="600.3" width="0.9" height="0.6" fill="#777"/>
<rect x="209.9" y="600.9" width="0.9" height="0.6" fill="#777"/>
<rect x="210.0" y="594.0" width="0.9" height="0.6" fill="#777"/>
<circle cx="6" cy="571" r="5.6" fill="#fff" stroke="#3b3838" stroke-width="0.8"/>
<text x="6" y="574.1" font-size="8.6" text-anchor="middle">V</text>
<path d="M6,565.4 V559 H28 C36,559 34,584 45.8,584 H48.8" fill="none" stroke="#3b3838" stroke-width="0.8"/>
<path d="M6,576.6 V586.2 H48.8" fill="none" stroke="#3b3838" stroke-width="0.8"/>
<circle cx="51" cy="609.6" r="5.6" fill="#fff" stroke="#3b3838" stroke-width="0.8"/>
<text x="51" y="612.7" font-size="8.6" text-anchor="middle">V</text>
<path d="M51,604.0 V597.6 H72 C80,597.6 78,622.4 91,622.4 H94" fill="none" stroke="#3b3838" stroke-width="0.8"/>
<path d="M51,615.2 V624.6 H94" fill="none" stroke="#3b3838" stroke-width="0.8"/>
<text x="123.00" y="500.80" font-size="8.9" text-anchor="start" >Surface in thermal</text>
<text x="112.00" y="510.60" font-size="8.9" text-anchor="start" >contact with cover glass</text>
<text x="45.00" y="528.80" font-size="8.9" text-anchor="start" >Unaffected surface remains</text>
<text x="57.50" y="538.20" font-size="8.9" text-anchor="start" >at room temperature</text>
<text x="258.00" y="519.40" font-size="8.9" text-anchor="start" >Incoming</text>
<text x="253.60" y="528.80" font-size="8.9" text-anchor="start" >laser beam</text>
<text x="286.00" y="544.20" font-size="8.9" text-anchor="start" >Ablated</text>
<text x="284.00" y="553.60" font-size="8.9" text-anchor="start" >particles</text>
<text x="229.60" y="558.60" font-size="8.9" text-anchor="start" >Cover glass</text>
<text x="263.60" y="594.00" font-size="8.9" text-anchor="start" >Surface heating</text>
<text x="265.00" y="603.40" font-size="8.9" text-anchor="start" >due to incident</text>
<text x="271.00" y="612.80" font-size="8.9" text-anchor="start" >laser beam</text>
<text x="219.60" y="654.90" font-size="8.9" text-anchor="start" >Unaffected surface remains</text>
<text x="231.60" y="664.10" font-size="8.9" text-anchor="start" >at room temperature</text>
<line x1="178" y1="515.6" x2="192.67" y2="579.91" stroke="#231f20" stroke-width="0.8"/>
<path d="M193.6,584 L190.81,580.33 L194.52,579.48 Z" fill="#231f20"/>
<line x1="250" y1="521" x2="227.80" y2="521.00" stroke="#231f20" stroke-width="0.8"/>
<path d="M223.6,521 L227.80,519.10 L227.80,522.90 Z" fill="#231f20"/>
<line x1="247" y1="564" x2="229.63" y2="580.69" stroke="#231f20" stroke-width="0.8"/>
<path d="M226.6,583.6 L228.31,579.32 L230.95,582.06 Z" fill="#231f20"/>
<line x1="294" y1="558" x2="235.56" y2="594.76" stroke="#231f20" stroke-width="0.8"/>
<path d="M232,597 L234.54,593.16 L236.57,596.37 Z" fill="#231f20"/>
<line x1="261" y1="597" x2="240.02" y2="603.38" stroke="#231f20" stroke-width="0.8"/>
<path d="M236,604.6 L239.47,601.56 L240.57,605.20 Z" fill="#231f20"/>
<line x1="249.6" y1="643.6" x2="234.59" y2="628.75" stroke="#231f20" stroke-width="0.8"/>
<path d="M231.6,625.8 L235.92,627.40 L233.25,630.10 Z" fill="#231f20"/>
<line x1="108.5" y1="542" x2="133.28" y2="562.80" stroke="#231f20" stroke-width="0.8"/>
<path d="M136.5,565.5 L132.06,564.26 L134.50,561.34 Z" fill="#231f20"/>
<text x="324.60" y="495.80" font-size="10.5" text-anchor="start" font-weight="bold">f</text>
<rect x="379.9" y="491" width="23" height="171" fill="#ececec"/>
<polyline points="360.5,662.0 379.8,662.0 380.4,660.0 380.4,660.0 381.4,649.7 382.4,639.0 383.5,628.6 384.5,618.7 385.5,610.1 386.5,602.5 387.6,595.7 388.6,589.4 389.7,583.2 390.7,576.9 391.7,570.5 392.7,564.0 393.8,557.6 394.8,551.6 395.8,546.2 397.2,539.5 398.6,533.4 400.1,527.7 401.5,522.1 402.9,516.3 404.3,519.4 405.6,522.5 407.0,525.6 408.4,528.7 409.7,531.7 411.1,534.7 413.2,539.3 415.4,543.9 417.5,548.5 419.6,552.9 421.8,557.3 423.9,561.5 426.0,565.6 428.1,569.7 430.2,573.7 432.4,577.5 434.5,581.1 436.6,584.5 438.7,587.7 440.9,590.7 443.0,593.5 445.1,596.2 447.3,598.7 449.4,601.1 451.5,603.3 453.7,605.3 455.8,607.3 457.9,609.1 460.1,610.9 462.2,612.6 464.3,614.3 466.5,615.9 468.6,617.4 470.7,618.9 472.9,620.3 475.0,621.6 477.1,622.8 479.2,623.9 481.4,625.0 483.5,626.0 485.6,627.0 487.7,628.0 489.8,628.9 491.8,629.8 493.9,630.6 495.9,631.4 497.9,632.3 500.0,633.1 501.3,633.7 502.7,634.3 504.0,634.9 505.3,635.4 506.7,635.9 508.0,636.4 511.7,637.5 515.3,638.4 519.0,639.3 522.7,640.1 526.3,640.8 530.0,641.5 534.7,642.4 539.3,643.2 544.0,644.0 548.7,644.7 553.3,645.4 558.0,646.0 563.3,646.7 568.7,647.3 574.0,647.8 579.3,648.4 584.7,648.9 590.0,649.3 594.6,649.6 599.1,649.9 603.7,650.2 608.3,650.5 612.8,650.7 617.4,651.0" fill="none" stroke="#d9472f" stroke-width="0.9" stroke-linejoin="round" />
<polyline points="360.5,662.0 379.8,662.0 380.4,660.0 380.4,660.0 381.2,657.9 382.0,655.8 382.7,653.6 383.5,651.6 384.3,649.7 385.0,648.1 385.6,646.5 386.3,645.1 386.9,643.8 387.6,642.8 388.1,642.3 388.6,642.0 389.1,641.7 389.6,641.3 390.1,640.7 391.0,637.8 391.9,632.4 392.7,625.6 393.6,618.6 394.5,612.6 395.3,608.2 396.0,603.8 396.8,599.7 397.5,595.8 398.3,592.2 399.2,588.4 400.1,584.9 401.1,581.6 402.0,578.4 402.9,575.1 403.6,576.3 404.4,577.4 405.1,578.6 405.8,579.8 406.6,580.9 407.3,582.0 409.2,584.7 411.1,587.4 413.1,590.0 415.0,592.5 416.9,594.9 418.8,597.3 420.3,599.1 421.8,600.8 423.2,602.5 424.7,604.1 426.2,605.8 427.7,607.5 428.8,608.8 429.8,610.3 430.9,611.7 432.0,613.1 433.0,614.3 434.1,615.2 435.2,615.9 436.2,616.6 437.3,617.3 438.4,617.8 439.4,618.1 440.5,618.3 441.6,618.4 442.6,618.4 443.7,618.4 444.8,618.4 445.8,618.5 446.9,618.5 448.6,618.8 450.3,619.4 452.0,620.2 453.7,621.1 455.4,622.1 457.1,622.9 460.1,624.3 463.1,625.7 466.1,627.2 469.0,628.6 472.0,630.0 475.0,631.3 479.2,633.0 483.3,634.6 487.5,636.2 491.7,637.6 495.8,638.9 500.0,640.0 501.3,640.3 502.7,640.6 504.0,640.9 505.3,641.1 506.7,641.4 508.0,641.6 511.7,642.3 515.3,642.9 519.0,643.6 522.7,644.2 526.3,644.7 530.0,645.2 534.7,645.8 539.3,646.3 544.0,646.7 548.7,647.1 553.3,647.6 558.0,648.0 563.3,648.5 568.7,649.0 574.0,649.5 579.3,650.0 584.7,650.4 590.0,650.8 594.6,651.1 599.1,651.4 603.7,651.6 608.3,651.9 612.8,652.1 617.4,652.4" fill="none" stroke="#4d7fbf" stroke-width="0.9" stroke-linejoin="round" />
<polyline points="380.4,660.0 402.9,628.0 403.8,627.8 404.8,627.5 405.7,627.2 406.6,626.9 407.6,626.8 408.5,626.7 413.2,627.0 417.9,627.6 422.6,628.6 427.2,629.7 431.9,630.8 436.6,631.8 443.0,633.1 449.4,634.4 455.8,635.7 462.2,637.1 468.6,638.3 475.0,639.5 479.2,640.2 483.3,640.7 487.5,641.3 491.7,641.9 495.8,642.5 500.0,643.3 501.3,643.6 502.7,644.1 504.0,644.5 505.3,644.9 506.7,645.3 508.0,645.6 516.3,646.7 524.7,647.6 533.0,648.2 541.3,648.8 549.7,649.3 558.0,650.0 563.3,650.5 568.7,651.0 574.0,651.5 579.3,651.9 584.7,652.4 590.0,652.8 594.6,653.1 599.1,653.4 603.7,653.7 608.3,654.0 612.8,654.3 617.4,654.6" fill="none" stroke="#4d7fbf" stroke-width="0.9" stroke-dasharray="3,2" stroke-linejoin="round" />
<polyline points="380.4,660.0 402.9,639.5 404.7,639.3 406.5,639.0 408.3,638.7 410.1,638.4 411.9,638.3 413.7,638.2 417.5,638.3 421.3,638.6 425.1,639.1 429.0,639.6 432.8,640.2 436.6,640.7 443.0,641.5 449.4,642.3 455.8,643.2 462.2,644.1 468.6,645.0 475.0,645.8 479.2,646.4 483.3,646.9 487.5,647.5 491.7,648.0 495.8,648.5 500.0,648.9 501.3,649.0 502.7,649.1 504.0,649.2 505.3,649.3 506.7,649.3 508.0,649.4 516.3,649.8 524.7,650.1 533.0,650.5 541.3,650.8 549.7,651.1 558.0,651.5 563.3,651.8 568.7,652.1 574.0,652.5 579.3,652.8 584.7,653.2 590.0,653.5 594.6,653.8 599.1,654.0 603.7,654.3 608.3,654.5 612.8,654.8 617.4,655.0" fill="none" stroke="#d9472f" stroke-width="0.9" stroke-dasharray="3,2" stroke-linejoin="round" />
<rect x="360.5" y="491.5" width="257.00" height="171.00" fill="none" stroke="#444" stroke-width="1.0"/>
<path d="M380.00,662.00v-3.6M419.60,662.00v-3.6M459.20,662.00v-3.6M498.80,662.00v-3.6M538.40,662.00v-3.6M578.00,662.00v-3.6M617.60,662.00v-3.6" stroke="#3b3838" stroke-width="0.7" fill="none"/>
<path d="M399.80,662.00v-2.2M439.40,662.00v-2.2M479.00,662.00v-2.2M518.60,662.00v-2.2M558.20,662.00v-2.2M597.80,662.00v-2.2" stroke="#3b3838" stroke-width="0.7" fill="none"/>
<path d="M380.00,491.00v3M399.80,491.00v3M419.60,491.00v3M439.40,491.00v3M459.20,491.00v3M479.00,491.00v3M498.80,491.00v3M518.60,491.00v3M538.40,491.00v3M558.20,491.00v3M578.00,491.00v3M597.80,491.00v3" stroke="#3b3838" stroke-width="0.7" fill="none"/>
<path d="M360.00,627.80h3.6M360.00,593.60h3.6M360.00,559.40h3.6M360.00,525.20h3.6" stroke="#3b3838" stroke-width="0.7" fill="none"/>
<path d="M360.00,644.90h2.2M360.00,610.70h2.2M360.00,576.50h2.2M360.00,542.30h2.2M360.00,508.10h2.2" stroke="#3b3838" stroke-width="0.7" fill="none"/>
<path d="M617.60,644.90h-2.4M617.60,627.80h-2.4M617.60,610.70h-2.4M617.60,593.60h-2.4M617.60,576.50h-2.4M617.60,559.40h-2.4M617.60,542.30h-2.4M617.60,525.20h-2.4M617.60,508.10h-2.4" stroke="#3b3838" stroke-width="0.7" fill="none"/>
<text x="380.00" y="672.00" font-size="8.6" text-anchor="middle" >0</text>
<text x="419.60" y="672.00" font-size="8.6" text-anchor="middle" >2</text>
<text x="459.20" y="672.00" font-size="8.6" text-anchor="middle" >4</text>
<text x="498.80" y="672.00" font-size="8.6" text-anchor="middle" >6</text>
<text x="538.40" y="672.00" font-size="8.6" text-anchor="middle" >8</text>
<text x="578.00" y="672.00" font-size="8.6" text-anchor="middle" >10</text>
<text x="617.60" y="672.00" font-size="8.6" text-anchor="middle" >12</text>
<text x="357.60" y="666.30" font-size="8.6" text-anchor="end" >0</text>
<text x="357.60" y="632.10" font-size="8.6" text-anchor="end" >20</text>
<text x="357.60" y="597.90" font-size="8.6" text-anchor="end" >40</text>
<text x="357.60" y="563.70" font-size="8.6" text-anchor="end" >60</text>
<text x="357.60" y="529.50" font-size="8.6" text-anchor="end" >80</text>
<text x="357.60" y="495.30" font-size="8.6" text-anchor="end" >100</text>
<text x="488.40" y="683.40" font-size="8.6" text-anchor="middle" >Time (s)</text>
<text x="0" y="0" font-size="8.7" text-anchor="middle" transform="translate(340.6,572.2) rotate(-90)">Temperature (a.u.)</text>
<text x="390.7" y="505" font-size="7.3" text-anchor="middle" style="fill:#6aa84f">Laser on</text>
<path d="M383.5,511.4 H399.5" stroke="#6aa84f" stroke-width="0.9"/><path d="M380.2,511.4 L384.2,509.6 L384.2,513.2 Z M402.8,511.4 L398.8,509.6 L398.8,513.2 Z" fill="#6aa84f"/>
<line x1="487.60" y1="508.40" x2="500.60" y2="508.40" stroke="#4d7fbf" stroke-width="0.9" />
<line x1="487.60" y1="519.00" x2="500.60" y2="519.00" stroke="#d9472f" stroke-width="0.9" />
<line x1="487.60" y1="529.60" x2="500.60" y2="529.60" stroke="#4d7fbf" stroke-width="0.9" stroke-dasharray="2.5,1.8"/>
<line x1="487.60" y1="540.20" x2="500.60" y2="540.20" stroke="#d9472f" stroke-width="0.9" stroke-dasharray="2.5,1.8"/>
<text x="503.6" y="511.0" font-size="7.5">Δ<tspan font-style="italic">T</tspan><tspan font-size="5.2" dy="1.8">target</tspan><tspan dy="-1.8">, ablation cooled</tspan></text>
<text x="503.6" y="521.6" font-size="7.5">Δ<tspan font-style="italic">T</tspan><tspan font-size="5.2" dy="1.8">target</tspan><tspan dy="-1.8">, no ablation cooling</tspan></text>
<text x="503.6" y="532.2" font-size="7.5">Δ<tspan font-style="italic">T</tspan><tspan font-size="5.2" dy="1.8">cover</tspan><tspan dy="-1.8"> × 3, ablation cooled</tspan></text>
<text x="503.6" y="542.8" font-size="7.5">Δ<tspan font-style="italic">T</tspan><tspan font-size="5.2" dy="1.8">cover</tspan><tspan dy="-1.8"> × 3, no ablation cooling</tspan></text>
</svg></body></html>
